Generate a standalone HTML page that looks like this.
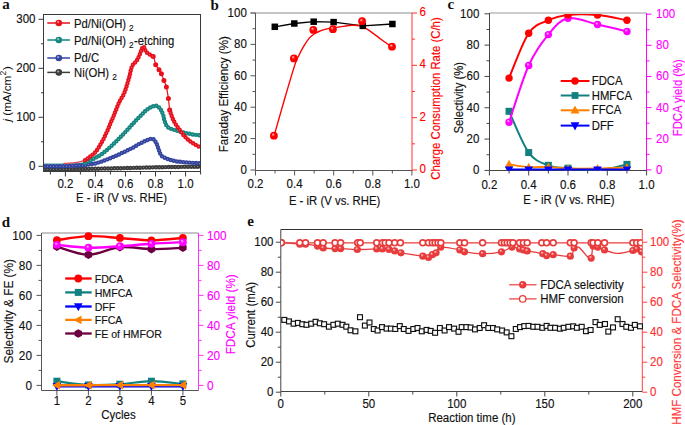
<!DOCTYPE html>
<html><head><meta charset="utf-8"><style>
html,body{margin:0;padding:0;background:#fff;}
svg{display:block;}
text{font-family:"Liberation Sans", sans-serif;}
</style></head><body>
<svg width="685" height="425" viewBox="0 0 685 425">
<rect width="685" height="425" fill="#fff"/>
<defs><radialGradient id="ge8101c" cx="0.5" cy="0.5" r="0.5" fx="0.36" fy="0.3"><stop offset="0" stop-color="#facfd1"/><stop offset="0.45" stop-color="#e8101c"/><stop offset="1" stop-color="#e8101c"/></radialGradient><radialGradient id="g14857f" cx="0.5" cy="0.5" r="0.5" fx="0.36" fy="0.3"><stop offset="0" stop-color="#d0e6e5"/><stop offset="0.45" stop-color="#14857f"/><stop offset="1" stop-color="#14857f"/></radialGradient><radialGradient id="g3344a0" cx="0.5" cy="0.5" r="0.5" fx="0.36" fy="0.3"><stop offset="0" stop-color="#d6d9ec"/><stop offset="0.45" stop-color="#3344a0"/><stop offset="1" stop-color="#3344a0"/></radialGradient><radialGradient id="g3c3c3c" cx="0.5" cy="0.5" r="0.5" fx="0.36" fy="0.3"><stop offset="0" stop-color="#d8d8d8"/><stop offset="0.45" stop-color="#3c3c3c"/><stop offset="1" stop-color="#3c3c3c"/></radialGradient><radialGradient id="gff0000" cx="0.5" cy="0.5" r="0.5" fx="0.36" fy="0.3"><stop offset="0" stop-color="#ffcccc"/><stop offset="0.45" stop-color="#ff0000"/><stop offset="1" stop-color="#ff0000"/></radialGradient><radialGradient id="gff00ff" cx="0.5" cy="0.5" r="0.5" fx="0.36" fy="0.3"><stop offset="0" stop-color="#ffccff"/><stop offset="0.45" stop-color="#ff00ff"/><stop offset="1" stop-color="#ff00ff"/></radialGradient><radialGradient id="ge83c3c" cx="0.5" cy="0.5" r="0.5" fx="0.36" fy="0.3"><stop offset="0" stop-color="#fad8d8"/><stop offset="0.45" stop-color="#e83c3c"/><stop offset="1" stop-color="#e83c3c"/></radialGradient></defs>
<clipPath id="ca"><rect x="44" y="15" width="156.5" height="156"/></clipPath>
<g clip-path="url(#ca)">
<path d="M44,164.1 C48.33,164.08 63.17,164.18 70,164 C76.83,163.82 82.5,163.17 85,163" fill="none" stroke="#3c9a95" stroke-width="1.3" stroke-linejoin="round" stroke-linecap="round" />
<path d="M64,163.4 C65.83,163.27 71.5,163.12 75,162.6 C78.5,162.08 83.33,160.68 85,160.3" fill="none" stroke="#ea4a55" stroke-width="1.3" stroke-linejoin="round" stroke-linecap="round" />
<path d="M85,160.3 C86.65,159.02 92.17,155.52 94.9,152.6 C97.63,149.68 99.48,146.08 101.4,142.8 C103.32,139.52 104.75,136.47 106.4,132.9 C108.05,129.33 109.8,124.97 111.3,121.4 C112.8,117.83 114.03,114.8 115.4,111.5 C116.77,108.2 118,104.75 119.5,101.6 C121,98.45 122.8,96.6 124.4,92.6 C126,88.6 127.83,81.98 129.1,77.6 C130.37,73.22 130.73,69.12 132,66.3 C133.27,63.48 135.45,62.58 136.7,60.7 C137.95,58.82 138.4,57.35 139.5,55 C140.6,52.65 142.12,47.03 143.3,46.6 C144.48,46.17 144.95,50.75 146.6,52.4 C148.25,54.05 151.68,54.45 153.2,56.5 C154.72,58.55 154.73,62.5 155.7,64.7 C156.67,66.9 158.05,68.18 159,69.7 C159.95,71.22 160.58,72.02 161.4,73.8 C162.22,75.58 163.07,78.2 163.9,80.4 C164.73,82.6 165.65,83.98 166.4,87 C167.15,90.02 167.85,94.68 168.4,98.5 C168.95,102.32 169.07,106.77 169.7,109.9 C170.33,113.03 171.25,114.97 172.2,117.3 C173.15,119.63 174.17,121.83 175.4,123.9 C176.63,125.97 178.08,127.63 179.6,129.7 C181.12,131.77 182.58,134.25 184.5,136.3 C186.42,138.35 188.43,140.13 191.1,142 C193.77,143.87 198.93,146.58 200.5,147.5" fill="none" stroke="#e8101c" stroke-width="1.2" stroke-linejoin="round" stroke-linecap="round" />
<circle cx="153.2" cy="56.5" r="2.5" fill="#e8101c"/>
<circle cx="155.7" cy="64.7" r="2.5" fill="#e8101c"/>
<circle cx="159" cy="69.7" r="2.5" fill="#e8101c"/>
<circle cx="161.4" cy="73.8" r="2.5" fill="#e8101c"/>
<circle cx="163.9" cy="80.4" r="2.5" fill="#e8101c"/>
<circle cx="166.4" cy="87" r="2.5" fill="#e8101c"/>
<circle cx="168.4" cy="98.5" r="2.5" fill="#e8101c"/>
<circle cx="169.7" cy="109.9" r="2.5" fill="#e8101c"/>
<path d="M44,169.4 C50,169.33 67.33,169.2 80,169 C92.67,168.8 106.67,168.5 120,168.2 C133.33,167.9 146.5,167.47 160,167.2 C173.5,166.93 194.17,166.7 201,166.6" fill="none" stroke="#3c3c3c" stroke-width="1.2" stroke-linejoin="round" stroke-linecap="round" />
<circle cx="44" cy="169.4" r="1.3" fill="#fff" stroke="#3c3c3c" stroke-width="1.85"/>
<circle cx="47.2" cy="169.37" r="1.3" fill="#fff" stroke="#3c3c3c" stroke-width="1.85"/>
<circle cx="50.4" cy="169.34" r="1.3" fill="#fff" stroke="#3c3c3c" stroke-width="1.85"/>
<circle cx="53.6" cy="169.31" r="1.3" fill="#fff" stroke="#3c3c3c" stroke-width="1.85"/>
<circle cx="56.8" cy="169.28" r="1.3" fill="#fff" stroke="#3c3c3c" stroke-width="1.85"/>
<circle cx="60" cy="169.24" r="1.3" fill="#fff" stroke="#3c3c3c" stroke-width="1.85"/>
<circle cx="63.2" cy="169.21" r="1.3" fill="#fff" stroke="#3c3c3c" stroke-width="1.85"/>
<circle cx="66.4" cy="169.18" r="1.3" fill="#fff" stroke="#3c3c3c" stroke-width="1.85"/>
<circle cx="69.6" cy="169.14" r="1.3" fill="#fff" stroke="#3c3c3c" stroke-width="1.85"/>
<circle cx="72.8" cy="169.1" r="1.3" fill="#fff" stroke="#3c3c3c" stroke-width="1.85"/>
<circle cx="76" cy="169.06" r="1.3" fill="#fff" stroke="#3c3c3c" stroke-width="1.85"/>
<circle cx="79.2" cy="169.01" r="1.3" fill="#fff" stroke="#3c3c3c" stroke-width="1.85"/>
<circle cx="82.4" cy="168.96" r="1.3" fill="#fff" stroke="#3c3c3c" stroke-width="1.85"/>
<circle cx="85.6" cy="168.91" r="1.3" fill="#fff" stroke="#3c3c3c" stroke-width="1.85"/>
<circle cx="88.8" cy="168.85" r="1.3" fill="#fff" stroke="#3c3c3c" stroke-width="1.85"/>
<circle cx="92" cy="168.79" r="1.3" fill="#fff" stroke="#3c3c3c" stroke-width="1.85"/>
<circle cx="95.2" cy="168.73" r="1.3" fill="#fff" stroke="#3c3c3c" stroke-width="1.85"/>
<circle cx="98.39" cy="168.66" r="1.3" fill="#fff" stroke="#3c3c3c" stroke-width="1.85"/>
<circle cx="101.59" cy="168.6" r="1.3" fill="#fff" stroke="#3c3c3c" stroke-width="1.85"/>
<circle cx="104.79" cy="168.53" r="1.3" fill="#fff" stroke="#3c3c3c" stroke-width="1.85"/>
<circle cx="107.99" cy="168.46" r="1.3" fill="#fff" stroke="#3c3c3c" stroke-width="1.85"/>
<circle cx="111.19" cy="168.4" r="1.3" fill="#fff" stroke="#3c3c3c" stroke-width="1.85"/>
<circle cx="114.39" cy="168.33" r="1.3" fill="#fff" stroke="#3c3c3c" stroke-width="1.85"/>
<circle cx="117.59" cy="168.25" r="1.3" fill="#fff" stroke="#3c3c3c" stroke-width="1.85"/>
<circle cx="120.79" cy="168.18" r="1.3" fill="#fff" stroke="#3c3c3c" stroke-width="1.85"/>
<circle cx="123.99" cy="168.11" r="1.3" fill="#fff" stroke="#3c3c3c" stroke-width="1.85"/>
<circle cx="127.19" cy="168.03" r="1.3" fill="#fff" stroke="#3c3c3c" stroke-width="1.85"/>
<circle cx="130.39" cy="167.94" r="1.3" fill="#fff" stroke="#3c3c3c" stroke-width="1.85"/>
<circle cx="133.59" cy="167.86" r="1.3" fill="#fff" stroke="#3c3c3c" stroke-width="1.85"/>
<circle cx="136.78" cy="167.77" r="1.3" fill="#fff" stroke="#3c3c3c" stroke-width="1.85"/>
<circle cx="139.98" cy="167.69" r="1.3" fill="#fff" stroke="#3c3c3c" stroke-width="1.85"/>
<circle cx="143.18" cy="167.6" r="1.3" fill="#fff" stroke="#3c3c3c" stroke-width="1.85"/>
<circle cx="146.38" cy="167.52" r="1.3" fill="#fff" stroke="#3c3c3c" stroke-width="1.85"/>
<circle cx="149.58" cy="167.44" r="1.3" fill="#fff" stroke="#3c3c3c" stroke-width="1.85"/>
<circle cx="152.78" cy="167.36" r="1.3" fill="#fff" stroke="#3c3c3c" stroke-width="1.85"/>
<circle cx="155.98" cy="167.28" r="1.3" fill="#fff" stroke="#3c3c3c" stroke-width="1.85"/>
<circle cx="159.18" cy="167.22" r="1.3" fill="#fff" stroke="#3c3c3c" stroke-width="1.85"/>
<circle cx="162.38" cy="167.15" r="1.3" fill="#fff" stroke="#3c3c3c" stroke-width="1.85"/>
<circle cx="165.58" cy="167.1" r="1.3" fill="#fff" stroke="#3c3c3c" stroke-width="1.85"/>
<circle cx="168.78" cy="167.05" r="1.3" fill="#fff" stroke="#3c3c3c" stroke-width="1.85"/>
<circle cx="171.98" cy="167" r="1.3" fill="#fff" stroke="#3c3c3c" stroke-width="1.85"/>
<circle cx="175.17" cy="166.95" r="1.3" fill="#fff" stroke="#3c3c3c" stroke-width="1.85"/>
<circle cx="178.37" cy="166.9" r="1.3" fill="#fff" stroke="#3c3c3c" stroke-width="1.85"/>
<circle cx="181.57" cy="166.86" r="1.3" fill="#fff" stroke="#3c3c3c" stroke-width="1.85"/>
<circle cx="184.77" cy="166.81" r="1.3" fill="#fff" stroke="#3c3c3c" stroke-width="1.85"/>
<circle cx="187.97" cy="166.77" r="1.3" fill="#fff" stroke="#3c3c3c" stroke-width="1.85"/>
<circle cx="191.17" cy="166.73" r="1.3" fill="#fff" stroke="#3c3c3c" stroke-width="1.85"/>
<circle cx="194.37" cy="166.69" r="1.3" fill="#fff" stroke="#3c3c3c" stroke-width="1.85"/>
<circle cx="197.57" cy="166.65" r="1.3" fill="#fff" stroke="#3c3c3c" stroke-width="1.85"/>
<circle cx="200.77" cy="166.6" r="1.3" fill="#fff" stroke="#3c3c3c" stroke-width="1.85"/>
<path d="M44,166.2 C48.33,166.17 61.8,166.4 70,166 C78.2,165.6 86.58,165.07 93.2,163.8 C99.82,162.53 104.77,160.27 109.7,158.4 C114.63,156.53 118.7,154.52 122.8,152.6 C126.9,150.68 131.43,148.42 134.3,146.9 C137.17,145.38 137.13,144.87 140,143.5 C142.87,142.13 148.88,138.95 151.5,138.7 C154.12,138.45 154.6,140.48 155.7,142 C156.8,143.52 157.28,145.73 158.1,147.8 C158.92,149.87 159.5,152.75 160.6,154.4 C161.7,156.05 162.08,156.55 164.7,157.7 C167.32,158.85 170.33,160.35 176.3,161.3 C182.27,162.25 196.47,163.05 200.5,163.4" fill="none" stroke="#3344a0" stroke-width="1.2" stroke-linejoin="round" stroke-linecap="round" />
<circle cx="44" cy="166.2" r="1.3" fill="#fff" stroke="#3344a0" stroke-width="1.85"/>
<circle cx="47.2" cy="166.2" r="1.3" fill="#fff" stroke="#3344a0" stroke-width="1.85"/>
<circle cx="50.4" cy="166.22" r="1.3" fill="#fff" stroke="#3344a0" stroke-width="1.85"/>
<circle cx="53.6" cy="166.23" r="1.3" fill="#fff" stroke="#3344a0" stroke-width="1.85"/>
<circle cx="56.8" cy="166.24" r="1.3" fill="#fff" stroke="#3344a0" stroke-width="1.85"/>
<circle cx="60" cy="166.23" r="1.3" fill="#fff" stroke="#3344a0" stroke-width="1.85"/>
<circle cx="63.2" cy="166.19" r="1.3" fill="#fff" stroke="#3344a0" stroke-width="1.85"/>
<circle cx="66.4" cy="166.13" r="1.3" fill="#fff" stroke="#3344a0" stroke-width="1.85"/>
<circle cx="69.6" cy="166.02" r="1.3" fill="#fff" stroke="#3344a0" stroke-width="1.85"/>
<circle cx="72.79" cy="165.86" r="1.3" fill="#fff" stroke="#3344a0" stroke-width="1.85"/>
<circle cx="75.99" cy="165.68" r="1.3" fill="#fff" stroke="#3344a0" stroke-width="1.85"/>
<circle cx="79.18" cy="165.46" r="1.3" fill="#fff" stroke="#3344a0" stroke-width="1.85"/>
<circle cx="82.37" cy="165.21" r="1.3" fill="#fff" stroke="#3344a0" stroke-width="1.85"/>
<circle cx="85.56" cy="164.9" r="1.3" fill="#fff" stroke="#3344a0" stroke-width="1.85"/>
<circle cx="88.73" cy="164.52" r="1.3" fill="#fff" stroke="#3344a0" stroke-width="1.85"/>
<circle cx="91.9" cy="164.04" r="1.3" fill="#fff" stroke="#3344a0" stroke-width="1.85"/>
<circle cx="95.03" cy="163.41" r="1.3" fill="#fff" stroke="#3344a0" stroke-width="1.85"/>
<circle cx="98.13" cy="162.61" r="1.3" fill="#fff" stroke="#3344a0" stroke-width="1.85"/>
<circle cx="101.18" cy="161.64" r="1.3" fill="#fff" stroke="#3344a0" stroke-width="1.85"/>
<circle cx="104.19" cy="160.54" r="1.3" fill="#fff" stroke="#3344a0" stroke-width="1.85"/>
<circle cx="107.17" cy="159.38" r="1.3" fill="#fff" stroke="#3344a0" stroke-width="1.85"/>
<circle cx="110.15" cy="158.23" r="1.3" fill="#fff" stroke="#3344a0" stroke-width="1.85"/>
<circle cx="113.12" cy="157.03" r="1.3" fill="#fff" stroke="#3344a0" stroke-width="1.85"/>
<circle cx="116.05" cy="155.75" r="1.3" fill="#fff" stroke="#3344a0" stroke-width="1.85"/>
<circle cx="118.96" cy="154.41" r="1.3" fill="#fff" stroke="#3344a0" stroke-width="1.85"/>
<circle cx="121.85" cy="153.04" r="1.3" fill="#fff" stroke="#3344a0" stroke-width="1.85"/>
<circle cx="124.75" cy="151.68" r="1.3" fill="#fff" stroke="#3344a0" stroke-width="1.85"/>
<circle cx="127.63" cy="150.28" r="1.3" fill="#fff" stroke="#3344a0" stroke-width="1.85"/>
<circle cx="130.49" cy="148.86" r="1.3" fill="#fff" stroke="#3344a0" stroke-width="1.85"/>
<circle cx="133.34" cy="147.4" r="1.3" fill="#fff" stroke="#3344a0" stroke-width="1.85"/>
<circle cx="136.13" cy="145.84" r="1.3" fill="#fff" stroke="#3344a0" stroke-width="1.85"/>
<circle cx="138.82" cy="144.1" r="1.3" fill="#fff" stroke="#3344a0" stroke-width="1.85"/>
<circle cx="141.68" cy="142.68" r="1.3" fill="#fff" stroke="#3344a0" stroke-width="1.85"/>
<circle cx="144.56" cy="141.28" r="1.3" fill="#fff" stroke="#3344a0" stroke-width="1.85"/>
<circle cx="147.48" cy="139.97" r="1.3" fill="#fff" stroke="#3344a0" stroke-width="1.85"/>
<circle cx="150.49" cy="138.89" r="1.3" fill="#fff" stroke="#3344a0" stroke-width="1.85"/>
<circle cx="153.58" cy="139.15" r="1.3" fill="#fff" stroke="#3344a0" stroke-width="1.85"/>
<circle cx="155.49" cy="141.69" r="1.3" fill="#fff" stroke="#3344a0" stroke-width="1.85"/>
<circle cx="156.94" cy="144.53" r="1.3" fill="#fff" stroke="#3344a0" stroke-width="1.85"/>
<circle cx="158" cy="147.55" r="1.3" fill="#fff" stroke="#3344a0" stroke-width="1.85"/>
<circle cx="159.03" cy="150.58" r="1.3" fill="#fff" stroke="#3344a0" stroke-width="1.85"/>
<circle cx="160.13" cy="153.58" r="1.3" fill="#fff" stroke="#3344a0" stroke-width="1.85"/>
<circle cx="161.99" cy="156.16" r="1.3" fill="#fff" stroke="#3344a0" stroke-width="1.85"/>
<circle cx="164.77" cy="157.73" r="1.3" fill="#fff" stroke="#3344a0" stroke-width="1.85"/>
<circle cx="167.71" cy="159" r="1.3" fill="#fff" stroke="#3344a0" stroke-width="1.85"/>
<circle cx="170.73" cy="160.05" r="1.3" fill="#fff" stroke="#3344a0" stroke-width="1.85"/>
<circle cx="173.83" cy="160.84" r="1.3" fill="#fff" stroke="#3344a0" stroke-width="1.85"/>
<circle cx="176.98" cy="161.4" r="1.3" fill="#fff" stroke="#3344a0" stroke-width="1.85"/>
<circle cx="180.15" cy="161.79" r="1.3" fill="#fff" stroke="#3344a0" stroke-width="1.85"/>
<circle cx="183.34" cy="162.1" r="1.3" fill="#fff" stroke="#3344a0" stroke-width="1.85"/>
<circle cx="186.53" cy="162.37" r="1.3" fill="#fff" stroke="#3344a0" stroke-width="1.85"/>
<circle cx="189.72" cy="162.62" r="1.3" fill="#fff" stroke="#3344a0" stroke-width="1.85"/>
<circle cx="192.91" cy="162.85" r="1.3" fill="#fff" stroke="#3344a0" stroke-width="1.85"/>
<circle cx="196.1" cy="163.07" r="1.3" fill="#fff" stroke="#3344a0" stroke-width="1.85"/>
<circle cx="199.29" cy="163.3" r="1.3" fill="#fff" stroke="#3344a0" stroke-width="1.85"/>
<path d="M85,163 C87.73,161.55 96.73,157.4 101.4,154.3 C106.07,151.2 109.15,147.97 113,144.4 C116.85,140.83 120.95,136.6 124.5,132.9 C128.05,129.2 131.72,124.93 134.3,122.2 C136.88,119.47 137.95,118.55 140,116.5 C142.05,114.45 144.13,111.68 146.6,109.9 C149.07,108.12 152.6,106.08 154.8,105.8 C157,105.52 158.42,106.7 159.8,108.2 C161.18,109.7 162.28,112.6 163.1,114.8 C163.92,117 163.88,119.33 164.7,121.4 C165.52,123.47 166.07,125.68 168,127.2 C169.93,128.72 172.72,129.4 176.3,130.5 C179.88,131.6 185.47,132.97 189.5,133.8 C193.53,134.63 198.67,135.22 200.5,135.5" fill="none" stroke="#14857f" stroke-width="1.2" stroke-linejoin="round" stroke-linecap="round" />
<circle cx="85" cy="163" r="1.3" fill="#fff" stroke="#14857f" stroke-width="1.85"/>
<circle cx="87.86" cy="161.56" r="1.3" fill="#fff" stroke="#14857f" stroke-width="1.85"/>
<circle cx="90.73" cy="160.15" r="1.3" fill="#fff" stroke="#14857f" stroke-width="1.85"/>
<circle cx="93.58" cy="158.7" r="1.3" fill="#fff" stroke="#14857f" stroke-width="1.85"/>
<circle cx="96.42" cy="157.22" r="1.3" fill="#fff" stroke="#14857f" stroke-width="1.85"/>
<circle cx="99.21" cy="155.65" r="1.3" fill="#fff" stroke="#14857f" stroke-width="1.85"/>
<circle cx="101.92" cy="153.95" r="1.3" fill="#fff" stroke="#14857f" stroke-width="1.85"/>
<circle cx="104.5" cy="152.06" r="1.3" fill="#fff" stroke="#14857f" stroke-width="1.85"/>
<circle cx="106.96" cy="150.01" r="1.3" fill="#fff" stroke="#14857f" stroke-width="1.85"/>
<circle cx="109.32" cy="147.86" r="1.3" fill="#fff" stroke="#14857f" stroke-width="1.85"/>
<circle cx="111.65" cy="145.66" r="1.3" fill="#fff" stroke="#14857f" stroke-width="1.85"/>
<circle cx="113.99" cy="143.47" r="1.3" fill="#fff" stroke="#14857f" stroke-width="1.85"/>
<circle cx="116.29" cy="141.26" r="1.3" fill="#fff" stroke="#14857f" stroke-width="1.85"/>
<circle cx="118.56" cy="139" r="1.3" fill="#fff" stroke="#14857f" stroke-width="1.85"/>
<circle cx="120.81" cy="136.72" r="1.3" fill="#fff" stroke="#14857f" stroke-width="1.85"/>
<circle cx="123.04" cy="134.42" r="1.3" fill="#fff" stroke="#14857f" stroke-width="1.85"/>
<circle cx="125.25" cy="132.11" r="1.3" fill="#fff" stroke="#14857f" stroke-width="1.85"/>
<circle cx="127.43" cy="129.77" r="1.3" fill="#fff" stroke="#14857f" stroke-width="1.85"/>
<circle cx="129.58" cy="127.4" r="1.3" fill="#fff" stroke="#14857f" stroke-width="1.85"/>
<circle cx="131.72" cy="125.02" r="1.3" fill="#fff" stroke="#14857f" stroke-width="1.85"/>
<circle cx="133.87" cy="122.65" r="1.3" fill="#fff" stroke="#14857f" stroke-width="1.85"/>
<circle cx="136.09" cy="120.35" r="1.3" fill="#fff" stroke="#14857f" stroke-width="1.85"/>
<circle cx="138.37" cy="118.1" r="1.3" fill="#fff" stroke="#14857f" stroke-width="1.85"/>
<circle cx="140.64" cy="115.84" r="1.3" fill="#fff" stroke="#14857f" stroke-width="1.85"/>
<circle cx="142.79" cy="113.48" r="1.3" fill="#fff" stroke="#14857f" stroke-width="1.85"/>
<circle cx="145.03" cy="111.19" r="1.3" fill="#fff" stroke="#14857f" stroke-width="1.85"/>
<circle cx="147.56" cy="109.23" r="1.3" fill="#fff" stroke="#14857f" stroke-width="1.85"/>
<circle cx="150.29" cy="107.56" r="1.3" fill="#fff" stroke="#14857f" stroke-width="1.85"/>
<circle cx="153.19" cy="106.22" r="1.3" fill="#fff" stroke="#14857f" stroke-width="1.85"/>
<circle cx="156.32" cy="105.85" r="1.3" fill="#fff" stroke="#14857f" stroke-width="1.85"/>
<circle cx="159.05" cy="107.43" r="1.3" fill="#fff" stroke="#14857f" stroke-width="1.85"/>
<circle cx="161.01" cy="109.95" r="1.3" fill="#fff" stroke="#14857f" stroke-width="1.85"/>
<circle cx="162.35" cy="112.85" r="1.3" fill="#fff" stroke="#14857f" stroke-width="1.85"/>
<circle cx="163.43" cy="115.86" r="1.3" fill="#fff" stroke="#14857f" stroke-width="1.85"/>
<circle cx="164.05" cy="119" r="1.3" fill="#fff" stroke="#14857f" stroke-width="1.85"/>
<circle cx="164.95" cy="122.06" r="1.3" fill="#fff" stroke="#14857f" stroke-width="1.85"/>
<circle cx="166.19" cy="125.01" r="1.3" fill="#fff" stroke="#14857f" stroke-width="1.85"/>
<circle cx="168.27" cy="127.4" r="1.3" fill="#fff" stroke="#14857f" stroke-width="1.85"/>
<circle cx="171.11" cy="128.85" r="1.3" fill="#fff" stroke="#14857f" stroke-width="1.85"/>
<circle cx="174.15" cy="129.85" r="1.3" fill="#fff" stroke="#14857f" stroke-width="1.85"/>
<circle cx="177.22" cy="130.77" r="1.3" fill="#fff" stroke="#14857f" stroke-width="1.85"/>
<circle cx="180.3" cy="131.63" r="1.3" fill="#fff" stroke="#14857f" stroke-width="1.85"/>
<circle cx="183.4" cy="132.42" r="1.3" fill="#fff" stroke="#14857f" stroke-width="1.85"/>
<circle cx="186.52" cy="133.15" r="1.3" fill="#fff" stroke="#14857f" stroke-width="1.85"/>
<circle cx="189.64" cy="133.83" r="1.3" fill="#fff" stroke="#14857f" stroke-width="1.85"/>
<circle cx="192.79" cy="134.4" r="1.3" fill="#fff" stroke="#14857f" stroke-width="1.85"/>
<circle cx="195.96" cy="134.87" r="1.3" fill="#fff" stroke="#14857f" stroke-width="1.85"/>
<circle cx="199.13" cy="135.31" r="1.3" fill="#fff" stroke="#14857f" stroke-width="1.85"/>
<path d="M85,160.3 C86.65,159.02 92.17,155.52 94.9,152.6 C97.63,149.68 99.48,146.08 101.4,142.8 C103.32,139.52 104.75,136.47 106.4,132.9 C108.05,129.33 109.8,124.97 111.3,121.4 C112.8,117.83 114.03,114.8 115.4,111.5 C116.77,108.2 118,104.75 119.5,101.6 C121,98.45 122.8,96.6 124.4,92.6 C126,88.6 127.83,81.98 129.1,77.6 C130.37,73.22 130.73,69.12 132,66.3 C133.27,63.48 135.45,62.58 136.7,60.7 C137.95,58.82 138.4,57.35 139.5,55 C140.6,52.65 142.12,47.03 143.3,46.6 C144.48,46.17 144.95,50.75 146.6,52.4 C148.25,54.05 152.1,55.82 153.2,56.5" fill="none" stroke="#e8101c" stroke-width="1.2" stroke-linejoin="round" stroke-linecap="round" />
<circle cx="85" cy="160.3" r="1.3" fill="#fff" stroke="#e8101c" stroke-width="1.85"/>
<circle cx="87.61" cy="158.44" r="1.3" fill="#fff" stroke="#e8101c" stroke-width="1.85"/>
<circle cx="90.21" cy="156.58" r="1.3" fill="#fff" stroke="#e8101c" stroke-width="1.85"/>
<circle cx="92.73" cy="154.61" r="1.3" fill="#fff" stroke="#e8101c" stroke-width="1.85"/>
<circle cx="95.06" cy="152.42" r="1.3" fill="#fff" stroke="#e8101c" stroke-width="1.85"/>
<circle cx="97.07" cy="149.93" r="1.3" fill="#fff" stroke="#e8101c" stroke-width="1.85"/>
<circle cx="98.82" cy="147.25" r="1.3" fill="#fff" stroke="#e8101c" stroke-width="1.85"/>
<circle cx="100.43" cy="144.49" r="1.3" fill="#fff" stroke="#e8101c" stroke-width="1.85"/>
<circle cx="102.02" cy="141.71" r="1.3" fill="#fff" stroke="#e8101c" stroke-width="1.85"/>
<circle cx="103.53" cy="138.89" r="1.3" fill="#fff" stroke="#e8101c" stroke-width="1.85"/>
<circle cx="104.94" cy="136.02" r="1.3" fill="#fff" stroke="#e8101c" stroke-width="1.85"/>
<circle cx="106.3" cy="133.12" r="1.3" fill="#fff" stroke="#e8101c" stroke-width="1.85"/>
<circle cx="107.61" cy="130.2" r="1.3" fill="#fff" stroke="#e8101c" stroke-width="1.85"/>
<circle cx="108.86" cy="127.26" r="1.3" fill="#fff" stroke="#e8101c" stroke-width="1.85"/>
<circle cx="110.09" cy="124.3" r="1.3" fill="#fff" stroke="#e8101c" stroke-width="1.85"/>
<circle cx="111.32" cy="121.35" r="1.3" fill="#fff" stroke="#e8101c" stroke-width="1.85"/>
<circle cx="112.55" cy="118.4" r="1.3" fill="#fff" stroke="#e8101c" stroke-width="1.85"/>
<circle cx="113.78" cy="115.44" r="1.3" fill="#fff" stroke="#e8101c" stroke-width="1.85"/>
<circle cx="114.99" cy="112.48" r="1.3" fill="#fff" stroke="#e8101c" stroke-width="1.85"/>
<circle cx="116.2" cy="109.52" r="1.3" fill="#fff" stroke="#e8101c" stroke-width="1.85"/>
<circle cx="117.38" cy="106.54" r="1.3" fill="#fff" stroke="#e8101c" stroke-width="1.85"/>
<circle cx="118.6" cy="103.58" r="1.3" fill="#fff" stroke="#e8101c" stroke-width="1.85"/>
<circle cx="119.96" cy="100.69" r="1.3" fill="#fff" stroke="#e8101c" stroke-width="1.85"/>
<circle cx="121.59" cy="97.94" r="1.3" fill="#fff" stroke="#e8101c" stroke-width="1.85"/>
<circle cx="123.21" cy="95.18" r="1.3" fill="#fff" stroke="#e8101c" stroke-width="1.85"/>
<circle cx="124.53" cy="92.26" r="1.3" fill="#fff" stroke="#e8101c" stroke-width="1.85"/>
<circle cx="125.61" cy="89.25" r="1.3" fill="#fff" stroke="#e8101c" stroke-width="1.85"/>
<circle cx="126.58" cy="86.2" r="1.3" fill="#fff" stroke="#e8101c" stroke-width="1.85"/>
<circle cx="127.5" cy="83.14" r="1.3" fill="#fff" stroke="#e8101c" stroke-width="1.85"/>
<circle cx="128.39" cy="80.06" r="1.3" fill="#fff" stroke="#e8101c" stroke-width="1.85"/>
<circle cx="129.27" cy="76.99" r="1.3" fill="#fff" stroke="#e8101c" stroke-width="1.85"/>
<circle cx="130.02" cy="73.88" r="1.3" fill="#fff" stroke="#e8101c" stroke-width="1.85"/>
<circle cx="130.68" cy="70.75" r="1.3" fill="#fff" stroke="#e8101c" stroke-width="1.85"/>
<circle cx="131.49" cy="67.65" r="1.3" fill="#fff" stroke="#e8101c" stroke-width="1.85"/>
<circle cx="132.88" cy="64.78" r="1.3" fill="#fff" stroke="#e8101c" stroke-width="1.85"/>
<circle cx="135.09" cy="62.48" r="1.3" fill="#fff" stroke="#e8101c" stroke-width="1.85"/>
<circle cx="137.12" cy="60.03" r="1.3" fill="#fff" stroke="#e8101c" stroke-width="1.85"/>
<circle cx="138.54" cy="57.16" r="1.3" fill="#fff" stroke="#e8101c" stroke-width="1.85"/>
<circle cx="139.83" cy="54.23" r="1.3" fill="#fff" stroke="#e8101c" stroke-width="1.85"/>
<circle cx="140.94" cy="51.23" r="1.3" fill="#fff" stroke="#e8101c" stroke-width="1.85"/>
<circle cx="142.12" cy="48.26" r="1.3" fill="#fff" stroke="#e8101c" stroke-width="1.85"/>
<circle cx="144.14" cy="47.2" r="1.3" fill="#fff" stroke="#e8101c" stroke-width="1.85"/>
<circle cx="145.32" cy="50.17" r="1.3" fill="#fff" stroke="#e8101c" stroke-width="1.85"/>
<circle cx="147.06" cy="52.81" r="1.3" fill="#fff" stroke="#e8101c" stroke-width="1.85"/>
<circle cx="149.71" cy="54.59" r="1.3" fill="#fff" stroke="#e8101c" stroke-width="1.85"/>
<circle cx="152.52" cy="56.12" r="1.3" fill="#fff" stroke="#e8101c" stroke-width="1.85"/>
<path d="M169.7,109.9 C170.12,111.13 171.25,114.97 172.2,117.3 C173.15,119.63 174.17,121.83 175.4,123.9 C176.63,125.97 178.08,127.63 179.6,129.7 C181.12,131.77 182.58,134.25 184.5,136.3 C186.42,138.35 188.43,140.13 191.1,142 C193.77,143.87 198.93,146.58 200.5,147.5" fill="none" stroke="#e8101c" stroke-width="1.2" stroke-linejoin="round" stroke-linecap="round" />
<circle cx="169.7" cy="109.9" r="1.3" fill="#fff" stroke="#e8101c" stroke-width="1.85"/>
<circle cx="170.67" cy="112.95" r="1.3" fill="#fff" stroke="#e8101c" stroke-width="1.85"/>
<circle cx="171.7" cy="115.98" r="1.3" fill="#fff" stroke="#e8101c" stroke-width="1.85"/>
<circle cx="172.89" cy="118.95" r="1.3" fill="#fff" stroke="#e8101c" stroke-width="1.85"/>
<circle cx="174.26" cy="121.84" r="1.3" fill="#fff" stroke="#e8101c" stroke-width="1.85"/>
<circle cx="175.85" cy="124.62" r="1.3" fill="#fff" stroke="#e8101c" stroke-width="1.85"/>
<circle cx="177.71" cy="127.22" r="1.3" fill="#fff" stroke="#e8101c" stroke-width="1.85"/>
<circle cx="179.65" cy="129.77" r="1.3" fill="#fff" stroke="#e8101c" stroke-width="1.85"/>
<circle cx="181.47" cy="132.39" r="1.3" fill="#fff" stroke="#e8101c" stroke-width="1.85"/>
<circle cx="183.36" cy="134.98" r="1.3" fill="#fff" stroke="#e8101c" stroke-width="1.85"/>
<circle cx="185.51" cy="137.34" r="1.3" fill="#fff" stroke="#e8101c" stroke-width="1.85"/>
<circle cx="187.86" cy="139.51" r="1.3" fill="#fff" stroke="#e8101c" stroke-width="1.85"/>
<circle cx="190.38" cy="141.49" r="1.3" fill="#fff" stroke="#e8101c" stroke-width="1.85"/>
<circle cx="193.04" cy="143.26" r="1.3" fill="#fff" stroke="#e8101c" stroke-width="1.85"/>
<circle cx="195.8" cy="144.88" r="1.3" fill="#fff" stroke="#e8101c" stroke-width="1.85"/>
<circle cx="198.6" cy="146.44" r="1.3" fill="#fff" stroke="#e8101c" stroke-width="1.85"/>
</g>
<rect x="43.5" y="14.5" width="157.0" height="157.0" fill="none" stroke="#3a3a3a" stroke-width="1"/>
<line x1="38.5" y1="166.3" x2="43.5" y2="166.3" stroke="#3a3a3a" stroke-width="1" />
<text x="35.5" y="170.3" font-size="12.42" text-anchor="end" fill="#111" stroke="#111" stroke-width="0.15" textLength="6.4" lengthAdjust="spacingAndGlyphs">0</text>
<line x1="38.5" y1="117.3" x2="43.5" y2="117.3" stroke="#3a3a3a" stroke-width="1" />
<text x="35.5" y="121.3" font-size="12.42" text-anchor="end" fill="#111" stroke="#111" stroke-width="0.15" textLength="19.19" lengthAdjust="spacingAndGlyphs">100</text>
<line x1="38.5" y1="68.3" x2="43.5" y2="68.3" stroke="#3a3a3a" stroke-width="1" />
<text x="35.5" y="72.3" font-size="12.42" text-anchor="end" fill="#111" stroke="#111" stroke-width="0.15" textLength="19.19" lengthAdjust="spacingAndGlyphs">200</text>
<line x1="38.5" y1="19.3" x2="43.5" y2="19.3" stroke="#3a3a3a" stroke-width="1" />
<text x="35.5" y="23.3" font-size="12.42" text-anchor="end" fill="#111" stroke="#111" stroke-width="0.15" textLength="19.19" lengthAdjust="spacingAndGlyphs">300</text>
<line x1="41" y1="141.8" x2="43.5" y2="141.8" stroke="#3a3a3a" stroke-width="1" />
<line x1="41" y1="92.8" x2="43.5" y2="92.8" stroke="#3a3a3a" stroke-width="1" />
<line x1="41" y1="43.8" x2="43.5" y2="43.8" stroke="#3a3a3a" stroke-width="1" />
<line x1="50.38" y1="171.5" x2="50.38" y2="174.5" stroke="#3a3a3a" stroke-width="1" />
<line x1="65.4" y1="171.5" x2="65.4" y2="176.5" stroke="#3a3a3a" stroke-width="1" />
<text x="65.4" y="188.2" font-size="12.42" text-anchor="middle" fill="#111" stroke="#111" stroke-width="0.15" textLength="15.99" lengthAdjust="spacingAndGlyphs">0.2</text>
<line x1="80.42" y1="171.5" x2="80.42" y2="174.5" stroke="#3a3a3a" stroke-width="1" />
<line x1="95.44" y1="171.5" x2="95.44" y2="176.5" stroke="#3a3a3a" stroke-width="1" />
<text x="95.44" y="188.2" font-size="12.42" text-anchor="middle" fill="#111" stroke="#111" stroke-width="0.15" textLength="15.99" lengthAdjust="spacingAndGlyphs">0.4</text>
<line x1="110.46" y1="171.5" x2="110.46" y2="174.5" stroke="#3a3a3a" stroke-width="1" />
<line x1="125.48" y1="171.5" x2="125.48" y2="176.5" stroke="#3a3a3a" stroke-width="1" />
<text x="125.48" y="188.2" font-size="12.42" text-anchor="middle" fill="#111" stroke="#111" stroke-width="0.15" textLength="15.99" lengthAdjust="spacingAndGlyphs">0.6</text>
<line x1="140.5" y1="171.5" x2="140.5" y2="174.5" stroke="#3a3a3a" stroke-width="1" />
<line x1="155.52" y1="171.5" x2="155.52" y2="176.5" stroke="#3a3a3a" stroke-width="1" />
<text x="155.52" y="188.2" font-size="12.42" text-anchor="middle" fill="#111" stroke="#111" stroke-width="0.15" textLength="15.99" lengthAdjust="spacingAndGlyphs">0.8</text>
<line x1="170.54" y1="171.5" x2="170.54" y2="174.5" stroke="#3a3a3a" stroke-width="1" />
<line x1="185.56" y1="171.5" x2="185.56" y2="176.5" stroke="#3a3a3a" stroke-width="1" />
<text x="185.56" y="188.2" font-size="12.42" text-anchor="middle" fill="#111" stroke="#111" stroke-width="0.15" textLength="15.99" lengthAdjust="spacingAndGlyphs">1.0</text>
<line x1="200.58" y1="171.5" x2="200.58" y2="174.5" stroke="#3a3a3a" stroke-width="1" />
<text x="76.1" y="202.2" font-size="12.2" text-anchor="start" fill="#111" stroke="#111" stroke-width="0.15" textLength="91" lengthAdjust="spacingAndGlyphs">E - iR (V vs. RHE)</text>
<text transform="translate(10.6 121.5) rotate(-90)" font-size="11.6" fill="#111"><tspan font-style="italic">j</tspan> (mA/cm<tspan font-size="8.6" dx="0.3" dy="-4.6">2</tspan><tspan dx="0.8" dy="4.6">)</tspan></text>
<line x1="47.3" y1="23" x2="70" y2="23" stroke="#e8101c" stroke-width="1.5" />
<circle cx="58.8" cy="23" r="3.3" fill="url(#ge8101c)"/>
<text x="74" y="27.7" font-size="12.2" text-anchor="start" fill="#111" stroke="#111" stroke-width="0.15" textLength="52.11" lengthAdjust="spacingAndGlyphs">Pd/Ni(OH)</text>
<text x="129.11" y="31.4" font-size="8.86" text-anchor="start" fill="#111" stroke="#111" stroke-width="0.15" textLength="4.56" lengthAdjust="spacingAndGlyphs">2</text>
<line x1="47.3" y1="40" x2="70" y2="40" stroke="#14857f" stroke-width="1.5" />
<circle cx="58.8" cy="40" r="3.3" fill="url(#g14857f)"/>
<text x="74" y="44.7" font-size="12.2" text-anchor="start" fill="#111" stroke="#111" stroke-width="0.15" textLength="52.11" lengthAdjust="spacingAndGlyphs">Pd/Ni(OH)</text>
<text x="129.11" y="48.4" font-size="8.86" text-anchor="start" fill="#111" stroke="#111" stroke-width="0.15" textLength="4.56" lengthAdjust="spacingAndGlyphs">2</text>
<text x="134.01" y="44.7" font-size="12.2" text-anchor="start" fill="#111" stroke="#111" stroke-width="0.15" textLength="40.2" lengthAdjust="spacingAndGlyphs">-etching</text>
<line x1="47.3" y1="58" x2="70" y2="58" stroke="#3344a0" stroke-width="1.5" />
<circle cx="58.8" cy="58" r="3.3" fill="url(#g3344a0)"/>
<text x="74" y="62.2" font-size="12.2" text-anchor="start" fill="#111" stroke="#111" stroke-width="0.15" textLength="25.12" lengthAdjust="spacingAndGlyphs">Pd/C</text>
<line x1="47.3" y1="72.4" x2="70" y2="72.4" stroke="#3c3c3c" stroke-width="1.5" />
<circle cx="58.8" cy="72.4" r="3.3" fill="url(#g3c3c3c)"/>
<text x="74" y="76.6" font-size="12.2" text-anchor="start" fill="#111" stroke="#111" stroke-width="0.15" textLength="35.15" lengthAdjust="spacingAndGlyphs">Ni(OH)</text>
<text x="112.15" y="80.3" font-size="8.86" text-anchor="start" fill="#111" stroke="#111" stroke-width="0.15" textLength="4.56" lengthAdjust="spacingAndGlyphs">2</text>
<text x="2.2" y="9" font-size="15" text-anchor="start" fill="#111" font-weight="bold" style='font-family:"Liberation Serif", serif'>a</text>
<line x1="250.5" y1="13" x2="412" y2="13" stroke="#8a8a8a" stroke-width="1" />
<line x1="255.5" y1="13" x2="255.5" y2="170.5" stroke="#555" stroke-width="1" />
<line x1="255.5" y1="170.5" x2="412" y2="170.5" stroke="#555" stroke-width="1" />
<line x1="412" y1="13" x2="412" y2="171" stroke="#ff3030" stroke-width="1" />
<line x1="250.5" y1="170" x2="255.5" y2="170" stroke="#555" stroke-width="1" />
<text x="246.8" y="174" font-size="12.42" text-anchor="end" fill="#111" stroke="#111" stroke-width="0.15" textLength="6.4" lengthAdjust="spacingAndGlyphs">0</text>
<line x1="252.5" y1="154.3" x2="255.5" y2="154.3" stroke="#555" stroke-width="1" />
<line x1="250.5" y1="138.6" x2="255.5" y2="138.6" stroke="#555" stroke-width="1" />
<text x="246.8" y="142.6" font-size="12.42" text-anchor="end" fill="#111" stroke="#111" stroke-width="0.15" textLength="12.79" lengthAdjust="spacingAndGlyphs">20</text>
<line x1="252.5" y1="122.9" x2="255.5" y2="122.9" stroke="#555" stroke-width="1" />
<line x1="250.5" y1="107.2" x2="255.5" y2="107.2" stroke="#555" stroke-width="1" />
<text x="246.8" y="111.2" font-size="12.42" text-anchor="end" fill="#111" stroke="#111" stroke-width="0.15" textLength="12.79" lengthAdjust="spacingAndGlyphs">40</text>
<line x1="252.5" y1="91.5" x2="255.5" y2="91.5" stroke="#555" stroke-width="1" />
<line x1="250.5" y1="75.8" x2="255.5" y2="75.8" stroke="#555" stroke-width="1" />
<text x="246.8" y="79.8" font-size="12.42" text-anchor="end" fill="#111" stroke="#111" stroke-width="0.15" textLength="12.79" lengthAdjust="spacingAndGlyphs">60</text>
<line x1="252.5" y1="60.1" x2="255.5" y2="60.1" stroke="#555" stroke-width="1" />
<line x1="250.5" y1="44.4" x2="255.5" y2="44.4" stroke="#555" stroke-width="1" />
<text x="246.8" y="48.4" font-size="12.42" text-anchor="end" fill="#111" stroke="#111" stroke-width="0.15" textLength="12.79" lengthAdjust="spacingAndGlyphs">80</text>
<line x1="252.5" y1="28.7" x2="255.5" y2="28.7" stroke="#555" stroke-width="1" />
<line x1="250.5" y1="13" x2="255.5" y2="13" stroke="#555" stroke-width="1" />
<text x="246.8" y="17" font-size="12.42" text-anchor="end" fill="#111" stroke="#111" stroke-width="0.15" textLength="19.19" lengthAdjust="spacingAndGlyphs">100</text>
<line x1="412" y1="170" x2="417" y2="170" stroke="#ff3030" stroke-width="1" />
<text x="419.5" y="173" font-size="12.42" text-anchor="start" fill="#ff0000" stroke="#ff0000" stroke-width="0.15" textLength="6.4" lengthAdjust="spacingAndGlyphs">0</text>
<line x1="412" y1="143.83" x2="415" y2="143.83" stroke="#ff3030" stroke-width="1" />
<line x1="412" y1="117.66" x2="417" y2="117.66" stroke="#ff3030" stroke-width="1" />
<text x="419.5" y="120.66" font-size="12.42" text-anchor="start" fill="#ff0000" stroke="#ff0000" stroke-width="0.15" textLength="6.4" lengthAdjust="spacingAndGlyphs">2</text>
<line x1="412" y1="91.49" x2="415" y2="91.49" stroke="#ff3030" stroke-width="1" />
<line x1="412" y1="65.32" x2="417" y2="65.32" stroke="#ff3030" stroke-width="1" />
<text x="419.5" y="68.32" font-size="12.42" text-anchor="start" fill="#ff0000" stroke="#ff0000" stroke-width="0.15" textLength="6.4" lengthAdjust="spacingAndGlyphs">4</text>
<line x1="412" y1="39.15" x2="415" y2="39.15" stroke="#ff3030" stroke-width="1" />
<line x1="412" y1="12.98" x2="417" y2="12.98" stroke="#ff3030" stroke-width="1" />
<text x="419.5" y="15.98" font-size="12.42" text-anchor="start" fill="#ff0000" stroke="#ff0000" stroke-width="0.15" textLength="6.4" lengthAdjust="spacingAndGlyphs">6</text>
<line x1="255.5" y1="170.5" x2="255.5" y2="175.5" stroke="#555" stroke-width="1" />
<text x="255.5" y="188.3" font-size="12.42" text-anchor="middle" fill="#111" stroke="#111" stroke-width="0.15" textLength="15.99" lengthAdjust="spacingAndGlyphs">0.2</text>
<line x1="275.05" y1="170.5" x2="275.05" y2="173.5" stroke="#555" stroke-width="1" />
<line x1="294.6" y1="170.5" x2="294.6" y2="175.5" stroke="#555" stroke-width="1" />
<text x="294.6" y="188.3" font-size="12.42" text-anchor="middle" fill="#111" stroke="#111" stroke-width="0.15" textLength="15.99" lengthAdjust="spacingAndGlyphs">0.4</text>
<line x1="314.15" y1="170.5" x2="314.15" y2="173.5" stroke="#555" stroke-width="1" />
<line x1="333.7" y1="170.5" x2="333.7" y2="175.5" stroke="#555" stroke-width="1" />
<text x="333.7" y="188.3" font-size="12.42" text-anchor="middle" fill="#111" stroke="#111" stroke-width="0.15" textLength="15.99" lengthAdjust="spacingAndGlyphs">0.6</text>
<line x1="353.25" y1="170.5" x2="353.25" y2="173.5" stroke="#555" stroke-width="1" />
<line x1="372.8" y1="170.5" x2="372.8" y2="175.5" stroke="#555" stroke-width="1" />
<text x="372.8" y="188.3" font-size="12.42" text-anchor="middle" fill="#111" stroke="#111" stroke-width="0.15" textLength="15.99" lengthAdjust="spacingAndGlyphs">0.8</text>
<line x1="392.35" y1="170.5" x2="392.35" y2="173.5" stroke="#555" stroke-width="1" />
<line x1="411.9" y1="170.5" x2="411.9" y2="175.5" stroke="#555" stroke-width="1" />
<text x="411.9" y="188.3" font-size="12.42" text-anchor="middle" fill="#111" stroke="#111" stroke-width="0.15" textLength="15.99" lengthAdjust="spacingAndGlyphs">1.0</text>
<text x="288.9" y="204.5" font-size="12.42" text-anchor="start" fill="#111" stroke="#111" stroke-width="0.15" textLength="91.5" lengthAdjust="spacingAndGlyphs">E - iR (V vs. RHE)</text>
<text x="228.4" y="152.2" font-size="12.31" text-anchor="start" fill="#111" stroke="#111" stroke-width="0.15" transform="rotate(-90 228.4 152.2)" textLength="116" lengthAdjust="spacingAndGlyphs">Faraday Efficiency (%)</text>
<text x="440.1" y="179.8" font-size="12.31" text-anchor="start" fill="#ff0000" stroke="#ff0000" stroke-width="0.15" transform="rotate(-90 440.1 179.8)" textLength="162.5" lengthAdjust="spacingAndGlyphs">Charge Consumption Rate (C/h)</text>
<path d="M274.8,26.8 L294.3,23.5 L313.7,21.7 L333.6,22.1 L362.8,25.9 L392.4,24" fill="none" stroke="#000" stroke-width="1.3" stroke-linejoin="round" stroke-linecap="round" />
<path d="M274.5,134.4 C276.27,128.22 281.68,108.97 285.1,97.3 C288.52,85.63 292.67,71.45 295,64.4 C297.33,57.35 297.63,58.03 299.1,55 C300.57,51.97 302.23,48.85 303.8,46.2 C305.37,43.55 306.73,41.17 308.5,39.1 C310.27,37.03 312.43,35.17 314.4,33.8 C316.37,32.43 318.33,31.68 320.3,30.9 C322.27,30.12 324.05,29.6 326.2,29.1 C328.35,28.6 330.9,28.27 333.2,27.9 C335.5,27.53 336.9,27.33 340,26.9 C343.1,26.47 348.27,25.42 351.8,25.3 C355.33,25.18 358.27,25.32 361.2,26.2 C364.13,27.08 366.47,28.7 369.4,30.6 C372.33,32.5 375.47,35.15 378.8,37.6 C382.13,40.05 387.2,43.73 389.4,45.3 C391.6,46.87 391.57,46.72 392,47" fill="none" stroke="#ff0000" stroke-width="1.4" stroke-linejoin="round" stroke-linecap="round" />
<rect x="271.55" y="23.55" width="6.5" height="6.5" fill="#000" stroke="#000" stroke-width="0"/>
<rect x="291.05" y="20.25" width="6.5" height="6.5" fill="#000" stroke="#000" stroke-width="0"/>
<rect x="310.45" y="18.45" width="6.5" height="6.5" fill="#000" stroke="#000" stroke-width="0"/>
<rect x="330.35" y="18.85" width="6.5" height="6.5" fill="#000" stroke="#000" stroke-width="0"/>
<rect x="359.55" y="22.65" width="6.5" height="6.5" fill="#000" stroke="#000" stroke-width="0"/>
<rect x="389.15" y="20.75" width="6.5" height="6.5" fill="#000" stroke="#000" stroke-width="0"/>
<circle cx="273.9" cy="135.7" r="3.9" fill="url(#gff0000)"/>
<circle cx="293.9" cy="58.4" r="3.9" fill="url(#gff0000)"/>
<circle cx="313.3" cy="29.9" r="3.9" fill="url(#gff0000)"/>
<circle cx="332.9" cy="29.2" r="3.9" fill="url(#gff0000)"/>
<circle cx="362.1" cy="21.2" r="3.9" fill="url(#gff0000)"/>
<circle cx="392" cy="46.7" r="3.9" fill="url(#gff0000)"/>
<text x="210.5" y="10.4" font-size="15" text-anchor="start" fill="#111" font-weight="bold" style='font-family:"Liberation Serif", serif'>b</text>
<line x1="489.5" y1="13" x2="646.5" y2="13" stroke="#999" stroke-width="1.2" />
<line x1="489.5" y1="13" x2="489.5" y2="170.5" stroke="#444" stroke-width="1" />
<line x1="489.5" y1="170.5" x2="646.5" y2="170.5" stroke="#444" stroke-width="1" />
<line x1="646.5" y1="13" x2="646.5" y2="170.5" stroke="#ff00ff" stroke-width="1" />
<line x1="484.5" y1="170.4" x2="489.5" y2="170.4" stroke="#444" stroke-width="1" />
<text x="479.3" y="174.4" font-size="12.42" text-anchor="end" fill="#111" stroke="#111" stroke-width="0.15" textLength="6.4" lengthAdjust="spacingAndGlyphs">0</text>
<line x1="646.5" y1="169.9" x2="651.5" y2="169.9" stroke="#ff00ff" stroke-width="1" />
<text x="656" y="173.9" font-size="12.42" text-anchor="start" fill="#ff00ff" stroke="#ff00ff" stroke-width="0.15" textLength="6.4" lengthAdjust="spacingAndGlyphs">0</text>
<line x1="486.5" y1="154.74" x2="489.5" y2="154.74" stroke="#444" stroke-width="1" />
<line x1="646.5" y1="154.33" x2="649.5" y2="154.33" stroke="#ff00ff" stroke-width="1" />
<line x1="484.5" y1="139.08" x2="489.5" y2="139.08" stroke="#444" stroke-width="1" />
<text x="479.3" y="143.08" font-size="12.42" text-anchor="end" fill="#111" stroke="#111" stroke-width="0.15" textLength="12.79" lengthAdjust="spacingAndGlyphs">20</text>
<line x1="646.5" y1="138.76" x2="651.5" y2="138.76" stroke="#ff00ff" stroke-width="1" />
<text x="656" y="142.76" font-size="12.42" text-anchor="start" fill="#ff00ff" stroke="#ff00ff" stroke-width="0.15" textLength="12.79" lengthAdjust="spacingAndGlyphs">20</text>
<line x1="486.5" y1="123.42" x2="489.5" y2="123.42" stroke="#444" stroke-width="1" />
<line x1="646.5" y1="123.19" x2="649.5" y2="123.19" stroke="#ff00ff" stroke-width="1" />
<line x1="484.5" y1="107.76" x2="489.5" y2="107.76" stroke="#444" stroke-width="1" />
<text x="479.3" y="111.76" font-size="12.42" text-anchor="end" fill="#111" stroke="#111" stroke-width="0.15" textLength="12.79" lengthAdjust="spacingAndGlyphs">40</text>
<line x1="646.5" y1="107.62" x2="651.5" y2="107.62" stroke="#ff00ff" stroke-width="1" />
<text x="656" y="111.62" font-size="12.42" text-anchor="start" fill="#ff00ff" stroke="#ff00ff" stroke-width="0.15" textLength="12.79" lengthAdjust="spacingAndGlyphs">40</text>
<line x1="486.5" y1="92.1" x2="489.5" y2="92.1" stroke="#444" stroke-width="1" />
<line x1="646.5" y1="92.05" x2="649.5" y2="92.05" stroke="#ff00ff" stroke-width="1" />
<line x1="484.5" y1="76.44" x2="489.5" y2="76.44" stroke="#444" stroke-width="1" />
<text x="479.3" y="80.44" font-size="12.42" text-anchor="end" fill="#111" stroke="#111" stroke-width="0.15" textLength="12.79" lengthAdjust="spacingAndGlyphs">60</text>
<line x1="646.5" y1="76.48" x2="651.5" y2="76.48" stroke="#ff00ff" stroke-width="1" />
<text x="656" y="80.48" font-size="12.42" text-anchor="start" fill="#ff00ff" stroke="#ff00ff" stroke-width="0.15" textLength="12.79" lengthAdjust="spacingAndGlyphs">60</text>
<line x1="486.5" y1="60.78" x2="489.5" y2="60.78" stroke="#444" stroke-width="1" />
<line x1="646.5" y1="60.91" x2="649.5" y2="60.91" stroke="#ff00ff" stroke-width="1" />
<line x1="484.5" y1="45.12" x2="489.5" y2="45.12" stroke="#444" stroke-width="1" />
<text x="479.3" y="49.12" font-size="12.42" text-anchor="end" fill="#111" stroke="#111" stroke-width="0.15" textLength="12.79" lengthAdjust="spacingAndGlyphs">80</text>
<line x1="646.5" y1="45.34" x2="651.5" y2="45.34" stroke="#ff00ff" stroke-width="1" />
<text x="656" y="49.34" font-size="12.42" text-anchor="start" fill="#ff00ff" stroke="#ff00ff" stroke-width="0.15" textLength="12.79" lengthAdjust="spacingAndGlyphs">80</text>
<line x1="486.5" y1="29.46" x2="489.5" y2="29.46" stroke="#444" stroke-width="1" />
<line x1="646.5" y1="29.77" x2="649.5" y2="29.77" stroke="#ff00ff" stroke-width="1" />
<line x1="484.5" y1="13.8" x2="489.5" y2="13.8" stroke="#444" stroke-width="1" />
<text x="479.3" y="17.8" font-size="12.42" text-anchor="end" fill="#111" stroke="#111" stroke-width="0.15" textLength="19.19" lengthAdjust="spacingAndGlyphs">100</text>
<line x1="646.5" y1="14.2" x2="651.5" y2="14.2" stroke="#ff00ff" stroke-width="1" />
<text x="656" y="18.2" font-size="12.42" text-anchor="start" fill="#ff00ff" stroke="#ff00ff" stroke-width="0.15" textLength="19.19" lengthAdjust="spacingAndGlyphs">100</text>
<line x1="489.4" y1="170.5" x2="489.4" y2="175.5" stroke="#444" stroke-width="1" />
<text x="489.4" y="188.5" font-size="12.42" text-anchor="middle" fill="#111" stroke="#111" stroke-width="0.15" textLength="15.99" lengthAdjust="spacingAndGlyphs">0.2</text>
<line x1="509.05" y1="170.5" x2="509.05" y2="173.5" stroke="#444" stroke-width="1" />
<line x1="528.7" y1="170.5" x2="528.7" y2="175.5" stroke="#444" stroke-width="1" />
<text x="528.7" y="188.5" font-size="12.42" text-anchor="middle" fill="#111" stroke="#111" stroke-width="0.15" textLength="15.99" lengthAdjust="spacingAndGlyphs">0.4</text>
<line x1="548.35" y1="170.5" x2="548.35" y2="173.5" stroke="#444" stroke-width="1" />
<line x1="568" y1="170.5" x2="568" y2="175.5" stroke="#444" stroke-width="1" />
<text x="568" y="188.5" font-size="12.42" text-anchor="middle" fill="#111" stroke="#111" stroke-width="0.15" textLength="15.99" lengthAdjust="spacingAndGlyphs">0.6</text>
<line x1="587.65" y1="170.5" x2="587.65" y2="173.5" stroke="#444" stroke-width="1" />
<line x1="607.3" y1="170.5" x2="607.3" y2="175.5" stroke="#444" stroke-width="1" />
<text x="607.3" y="188.5" font-size="12.42" text-anchor="middle" fill="#111" stroke="#111" stroke-width="0.15" textLength="15.99" lengthAdjust="spacingAndGlyphs">0.8</text>
<line x1="626.95" y1="170.5" x2="626.95" y2="173.5" stroke="#444" stroke-width="1" />
<line x1="646.6" y1="170.5" x2="646.6" y2="175.5" stroke="#444" stroke-width="1" />
<text x="646.6" y="188.5" font-size="12.42" text-anchor="middle" fill="#111" stroke="#111" stroke-width="0.15" textLength="15.99" lengthAdjust="spacingAndGlyphs">1.0</text>
<text x="523.3" y="204.3" font-size="12.42" text-anchor="start" fill="#111" stroke="#111" stroke-width="0.15" textLength="91.2" lengthAdjust="spacingAndGlyphs">E - iR (V vs. RHE)</text>
<text x="462.5" y="133.5" font-size="12.2" text-anchor="start" fill="#111" stroke="#111" stroke-width="0.15" transform="rotate(-90 462.5 133.5)" textLength="71.5" lengthAdjust="spacingAndGlyphs">Selectivity (%)</text>
<text x="682.3" y="136.2" font-size="12.2" text-anchor="start" fill="#ff00ff" stroke="#ff00ff" stroke-width="0.15" transform="rotate(-90 682.3 136.2)" textLength="77" lengthAdjust="spacingAndGlyphs">FDCA yield (%)</text>
<clipPath id="cc"><rect x="490" y="14" width="157" height="156.5"/></clipPath>
<g clip-path="url(#cc)">
<path d="M509.05,111.31 C512.32,118.19 522.15,143.57 528.7,152.57 C535.25,161.58 541.8,162.73 548.35,165.33 C554.9,167.93 559.81,167.3 568,168.16 C576.19,169.03 587.65,171.16 597.48,170.53 C607.3,169.9 622.04,165.41 626.95,164.38" fill="none" stroke="#128080" stroke-width="2" stroke-linejoin="round" stroke-linecap="round" />
<rect x="505.55" y="107.81" width="7" height="7" fill="#128080" stroke="#128080" stroke-width="0"/>
<rect x="525.2" y="149.07" width="7" height="7" fill="#128080" stroke="#128080" stroke-width="0"/>
<rect x="544.85" y="161.83" width="7" height="7" fill="#128080" stroke="#128080" stroke-width="0"/>
<rect x="564.5" y="164.66" width="7" height="7" fill="#128080" stroke="#128080" stroke-width="0"/>
<rect x="593.98" y="167.03" width="7" height="7" fill="#128080" stroke="#128080" stroke-width="0"/>
<rect x="623.45" y="160.88" width="7" height="7" fill="#128080" stroke="#128080" stroke-width="0"/>
<path d="M509.05,164.23 C512.32,164.73 522.15,166.77 528.7,167.22 C535.25,167.67 541.8,166.69 548.35,166.91 C554.9,167.12 559.81,168.22 568,168.48 C576.19,168.74 587.65,168.64 597.48,168.48 C607.3,168.32 622.04,167.69 626.95,167.53" fill="none" stroke="#ff8000" stroke-width="2" stroke-linejoin="round" stroke-linecap="round" />
<path d="M509.05,159.73 L505,167.23 L513.1,167.23 Z" fill="#ff8000"/>
<path d="M528.7,162.72 L524.65,170.22 L532.75,170.22 Z" fill="#ff8000"/>
<path d="M548.35,162.41 L544.3,169.91 L552.4,169.91 Z" fill="#ff8000"/>
<path d="M568,163.98 L563.95,171.48 L572.05,171.48 Z" fill="#ff8000"/>
<path d="M597.48,163.98 L593.43,171.48 L601.52,171.48 Z" fill="#ff8000"/>
<path d="M626.95,163.03 L622.9,170.53 L631,170.53 Z" fill="#ff8000"/>
<path d="M509.05,169.58 C512.32,169.58 522.15,169.58 528.7,169.58 C535.25,169.58 541.8,169.58 548.35,169.58 C554.9,169.58 559.81,169.58 568,169.58 C576.19,169.58 587.65,169.58 597.48,169.58 C607.3,169.58 622.04,169.58 626.95,169.58" fill="none" stroke="#0000ff" stroke-width="2.2" stroke-linejoin="round" stroke-linecap="round" />
<path d="M509.05,174.38 L504.75,166.38 L513.35,166.38 Z" fill="#0000ff"/>
<path d="M528.7,174.38 L524.4,166.38 L533,166.38 Z" fill="#0000ff"/>
<path d="M548.35,174.38 L544.05,166.38 L552.65,166.38 Z" fill="#0000ff"/>
<path d="M568,174.38 L563.7,166.38 L572.3,166.38 Z" fill="#0000ff"/>
<path d="M597.48,174.38 L593.18,166.38 L601.77,166.38 Z" fill="#0000ff"/>
<path d="M626.95,174.38 L622.65,166.38 L631.25,166.38 Z" fill="#0000ff"/>
<path d="M509.05,122.18 C512.32,112.73 522.15,80.07 528.7,65.48 C535.25,50.88 541.8,42.48 548.35,34.61 C554.9,26.73 559.81,19.9 568,18.22 C576.19,16.54 587.65,22.32 597.48,24.53 C607.3,26.73 622.04,30.3 626.95,31.46" fill="none" stroke="#ff00ff" stroke-width="2" stroke-linejoin="round" stroke-linecap="round" />
<path d="M509.05,78.08 C512.32,70.59 522.15,42.82 528.7,33.19 C535.25,23.55 541.8,23.32 548.35,20.27 C554.9,17.23 559.81,15.78 568,14.92 C576.19,14.05 587.65,14.18 597.48,15.08 C607.3,15.97 622.04,19.41 626.95,20.27" fill="none" stroke="#ff0000" stroke-width="2" stroke-linejoin="round" stroke-linecap="round" />
<circle cx="509.05" cy="122.18" r="3.7" fill="url(#gff00ff)"/>
<circle cx="528.7" cy="65.48" r="3.7" fill="url(#gff00ff)"/>
<circle cx="548.35" cy="34.61" r="3.7" fill="url(#gff00ff)"/>
<circle cx="568" cy="18.22" r="3.7" fill="url(#gff00ff)"/>
<circle cx="597.48" cy="24.53" r="3.7" fill="url(#gff00ff)"/>
<circle cx="626.95" cy="31.46" r="3.7" fill="url(#gff00ff)"/>
<circle cx="509.05" cy="78.08" r="3.7" fill="#ff0000"/>
<circle cx="528.7" cy="33.19" r="3.7" fill="#ff0000"/>
<circle cx="548.35" cy="20.27" r="3.7" fill="#ff0000"/>
<circle cx="568" cy="14.92" r="3.7" fill="#ff0000"/>
<circle cx="597.48" cy="15.08" r="3.7" fill="#ff0000"/>
<circle cx="626.95" cy="20.27" r="3.7" fill="#ff0000"/>
</g>
<line x1="560.7" y1="81" x2="589.5" y2="81" stroke="#ff0000" stroke-width="2" />
<circle cx="575" cy="81" r="3.7" fill="#ff0000"/>
<text x="591.8" y="85" font-size="12.2" text-anchor="start" fill="#111" stroke="#111" stroke-width="0.15" textLength="30.76" lengthAdjust="spacingAndGlyphs">FDCA</text>
<line x1="560.7" y1="95.5" x2="589.5" y2="95.5" stroke="#128080" stroke-width="2" />
<rect x="571.6" y="92.1" width="6.8" height="6.8" fill="#128080" stroke="#128080" stroke-width="0"/>
<text x="591.8" y="99.5" font-size="12.2" text-anchor="start" fill="#111" stroke="#111" stroke-width="0.15" textLength="40.18" lengthAdjust="spacingAndGlyphs">HMFCA</text>
<line x1="560.7" y1="110.3" x2="589.5" y2="110.3" stroke="#ff8000" stroke-width="2" />
<path d="M575,105.38 L570.6,113.58 L579.4,113.58 Z" fill="#ff8000"/>
<text x="591.8" y="114.3" font-size="12.2" text-anchor="start" fill="#111" stroke="#111" stroke-width="0.15" textLength="29.5" lengthAdjust="spacingAndGlyphs">FFCA</text>
<line x1="560.7" y1="125.6" x2="589.5" y2="125.6" stroke="#0000ff" stroke-width="2" />
<path d="M575,130.52 L570.6,122.32 L579.4,122.32 Z" fill="#0000ff"/>
<text x="591.8" y="129.6" font-size="12.2" text-anchor="start" fill="#111" stroke="#111" stroke-width="0.15" textLength="21.97" lengthAdjust="spacingAndGlyphs">DFF</text>
<text x="447.4" y="9.2" font-size="15" text-anchor="start" fill="#111" font-weight="bold" style='font-family:"Liberation Serif", serif'>c</text>
<line x1="41.5" y1="233" x2="198.5" y2="233" stroke="#8a8a8a" stroke-width="1" />
<line x1="41.5" y1="233" x2="41.5" y2="390.5" stroke="#555" stroke-width="1" />
<line x1="41.5" y1="390.5" x2="198.5" y2="390.5" stroke="#555" stroke-width="1" />
<line x1="198.5" y1="233" x2="198.5" y2="390.5" stroke="#ff33ff" stroke-width="1" />
<line x1="36.5" y1="385.4" x2="41.5" y2="385.4" stroke="#555" stroke-width="1" />
<text x="32" y="389.5" font-size="12.74" text-anchor="end" fill="#111" stroke="#111" stroke-width="0.15" textLength="6.56" lengthAdjust="spacingAndGlyphs">0</text>
<line x1="198.5" y1="385.4" x2="203.5" y2="385.4" stroke="#ff33ff" stroke-width="1" />
<text x="207" y="389.5" font-size="12.74" text-anchor="start" fill="#ff00ff" stroke="#ff00ff" stroke-width="0.15" textLength="6.56" lengthAdjust="spacingAndGlyphs">0</text>
<line x1="38.5" y1="370.4" x2="41.5" y2="370.4" stroke="#555" stroke-width="1" />
<line x1="198.5" y1="370.4" x2="201.5" y2="370.4" stroke="#ff33ff" stroke-width="1" />
<line x1="36.5" y1="355.4" x2="41.5" y2="355.4" stroke="#555" stroke-width="1" />
<text x="32" y="359.5" font-size="12.74" text-anchor="end" fill="#111" stroke="#111" stroke-width="0.15" textLength="13.13" lengthAdjust="spacingAndGlyphs">20</text>
<line x1="198.5" y1="355.4" x2="203.5" y2="355.4" stroke="#ff33ff" stroke-width="1" />
<text x="207" y="359.5" font-size="12.74" text-anchor="start" fill="#ff00ff" stroke="#ff00ff" stroke-width="0.15" textLength="13.13" lengthAdjust="spacingAndGlyphs">20</text>
<line x1="38.5" y1="340.4" x2="41.5" y2="340.4" stroke="#555" stroke-width="1" />
<line x1="198.5" y1="340.4" x2="201.5" y2="340.4" stroke="#ff33ff" stroke-width="1" />
<line x1="36.5" y1="325.4" x2="41.5" y2="325.4" stroke="#555" stroke-width="1" />
<text x="32" y="329.5" font-size="12.74" text-anchor="end" fill="#111" stroke="#111" stroke-width="0.15" textLength="13.13" lengthAdjust="spacingAndGlyphs">40</text>
<line x1="198.5" y1="325.4" x2="203.5" y2="325.4" stroke="#ff33ff" stroke-width="1" />
<text x="207" y="329.5" font-size="12.74" text-anchor="start" fill="#ff00ff" stroke="#ff00ff" stroke-width="0.15" textLength="13.13" lengthAdjust="spacingAndGlyphs">40</text>
<line x1="38.5" y1="310.4" x2="41.5" y2="310.4" stroke="#555" stroke-width="1" />
<line x1="198.5" y1="310.4" x2="201.5" y2="310.4" stroke="#ff33ff" stroke-width="1" />
<line x1="36.5" y1="295.4" x2="41.5" y2="295.4" stroke="#555" stroke-width="1" />
<text x="32" y="299.5" font-size="12.74" text-anchor="end" fill="#111" stroke="#111" stroke-width="0.15" textLength="13.13" lengthAdjust="spacingAndGlyphs">60</text>
<line x1="198.5" y1="295.4" x2="203.5" y2="295.4" stroke="#ff33ff" stroke-width="1" />
<text x="207" y="299.5" font-size="12.74" text-anchor="start" fill="#ff00ff" stroke="#ff00ff" stroke-width="0.15" textLength="13.13" lengthAdjust="spacingAndGlyphs">60</text>
<line x1="38.5" y1="280.4" x2="41.5" y2="280.4" stroke="#555" stroke-width="1" />
<line x1="198.5" y1="280.4" x2="201.5" y2="280.4" stroke="#ff33ff" stroke-width="1" />
<line x1="36.5" y1="265.4" x2="41.5" y2="265.4" stroke="#555" stroke-width="1" />
<text x="32" y="269.5" font-size="12.74" text-anchor="end" fill="#111" stroke="#111" stroke-width="0.15" textLength="13.13" lengthAdjust="spacingAndGlyphs">80</text>
<line x1="198.5" y1="265.4" x2="203.5" y2="265.4" stroke="#ff33ff" stroke-width="1" />
<text x="207" y="269.5" font-size="12.74" text-anchor="start" fill="#ff00ff" stroke="#ff00ff" stroke-width="0.15" textLength="13.13" lengthAdjust="spacingAndGlyphs">80</text>
<line x1="38.5" y1="250.4" x2="41.5" y2="250.4" stroke="#555" stroke-width="1" />
<line x1="198.5" y1="250.4" x2="201.5" y2="250.4" stroke="#ff33ff" stroke-width="1" />
<line x1="36.5" y1="235.4" x2="41.5" y2="235.4" stroke="#555" stroke-width="1" />
<text x="32" y="239.5" font-size="12.74" text-anchor="end" fill="#111" stroke="#111" stroke-width="0.15" textLength="19.69" lengthAdjust="spacingAndGlyphs">100</text>
<line x1="198.5" y1="235.4" x2="203.5" y2="235.4" stroke="#ff33ff" stroke-width="1" />
<text x="207" y="239.5" font-size="12.74" text-anchor="start" fill="#ff00ff" stroke="#ff00ff" stroke-width="0.15" textLength="19.69" lengthAdjust="spacingAndGlyphs">100</text>
<line x1="56.9" y1="390.5" x2="56.9" y2="395.5" stroke="#555" stroke-width="1" />
<text x="56.9" y="404.7" font-size="12.42" text-anchor="middle" fill="#111" stroke="#111" stroke-width="0.15" textLength="6.4" lengthAdjust="spacingAndGlyphs">1</text>
<line x1="88.4" y1="390.5" x2="88.4" y2="395.5" stroke="#555" stroke-width="1" />
<text x="88.4" y="404.7" font-size="12.42" text-anchor="middle" fill="#111" stroke="#111" stroke-width="0.15" textLength="6.4" lengthAdjust="spacingAndGlyphs">2</text>
<line x1="119.9" y1="390.5" x2="119.9" y2="395.5" stroke="#555" stroke-width="1" />
<text x="119.9" y="404.7" font-size="12.42" text-anchor="middle" fill="#111" stroke="#111" stroke-width="0.15" textLength="6.4" lengthAdjust="spacingAndGlyphs">3</text>
<line x1="151.4" y1="390.5" x2="151.4" y2="395.5" stroke="#555" stroke-width="1" />
<text x="151.4" y="404.7" font-size="12.42" text-anchor="middle" fill="#111" stroke="#111" stroke-width="0.15" textLength="6.4" lengthAdjust="spacingAndGlyphs">4</text>
<line x1="182.9" y1="390.5" x2="182.9" y2="395.5" stroke="#555" stroke-width="1" />
<text x="182.9" y="404.7" font-size="12.42" text-anchor="middle" fill="#111" stroke="#111" stroke-width="0.15" textLength="6.4" lengthAdjust="spacingAndGlyphs">5</text>
<text x="118.5" y="418.5" font-size="12.42" text-anchor="middle" fill="#111" stroke="#111" stroke-width="0.15" textLength="34.51" lengthAdjust="spacingAndGlyphs">Cycles</text>
<text x="13.3" y="363.5" font-size="12.96" text-anchor="start" fill="#111" stroke="#111" stroke-width="0.15" transform="rotate(-90 13.3 363.5)" textLength="104.5" lengthAdjust="spacingAndGlyphs">Selectivity &amp; FE (%)</text>
<text x="234.8" y="354.3" font-size="12.2" text-anchor="start" fill="#ff00ff" stroke="#ff00ff" stroke-width="0.15" transform="rotate(-90 234.8 354.3)" textLength="80" lengthAdjust="spacingAndGlyphs">FDCA yield (%)</text>
<path d="M56.9,240.2 C62.15,239.52 77.9,236.52 88.4,236.15 C98.9,235.77 109.4,237.25 119.9,237.95 C130.4,238.65 140.9,240.35 151.4,240.35 C161.9,240.35 177.65,238.35 182.9,237.95" fill="none" stroke="#ff0000" stroke-width="2.4" stroke-linejoin="round" stroke-linecap="round" />
<circle cx="56.9" cy="240.2" r="3.9" fill="#ff0000"/>
<circle cx="88.4" cy="236.15" r="3.9" fill="#ff0000"/>
<circle cx="119.9" cy="237.95" r="3.9" fill="#ff0000"/>
<circle cx="151.4" cy="240.35" r="3.9" fill="#ff0000"/>
<circle cx="182.9" cy="237.95" r="3.9" fill="#ff0000"/>
<path d="M56.9,381.2 C62.15,381.82 77.9,384.45 88.4,384.95 C98.9,385.45 109.4,384.82 119.9,384.2 C130.4,383.57 140.9,381.25 151.4,381.2 C161.9,381.15 177.65,383.45 182.9,383.9" fill="none" stroke="#128080" stroke-width="2.2" stroke-linejoin="round" stroke-linecap="round" />
<rect x="53.4" y="377.7" width="7" height="7" fill="#128080" stroke="#128080" stroke-width="0"/>
<rect x="84.9" y="381.45" width="7" height="7" fill="#128080" stroke="#128080" stroke-width="0"/>
<rect x="116.4" y="380.7" width="7" height="7" fill="#128080" stroke="#128080" stroke-width="0"/>
<rect x="147.9" y="377.7" width="7" height="7" fill="#128080" stroke="#128080" stroke-width="0"/>
<rect x="179.4" y="380.4" width="7" height="7" fill="#128080" stroke="#128080" stroke-width="0"/>
<path d="M56.9,386.3 C62.15,386.3 77.9,386.3 88.4,386.3 C98.9,386.3 109.4,386.3 119.9,386.3 C130.4,386.3 140.9,386.3 151.4,386.3 C161.9,386.3 177.65,386.3 182.9,386.3" fill="none" stroke="#0000ff" stroke-width="2.2" stroke-linejoin="round" stroke-linecap="round" />
<path d="M56.9,391.1 L52.6,383.1 L61.2,383.1 Z" fill="#0000ff"/>
<path d="M88.4,391.1 L84.1,383.1 L92.7,383.1 Z" fill="#0000ff"/>
<path d="M119.9,391.1 L115.6,383.1 L124.2,383.1 Z" fill="#0000ff"/>
<path d="M151.4,391.1 L147.1,383.1 L155.7,383.1 Z" fill="#0000ff"/>
<path d="M182.9,391.1 L178.6,383.1 L187.2,383.1 Z" fill="#0000ff"/>
<path d="M56.9,385.25 C62.15,385.25 77.9,385.27 88.4,385.25 C98.9,385.23 109.4,385.12 119.9,385.1 C130.4,385.07 140.9,385.1 151.4,385.1 C161.9,385.1 177.65,385.1 182.9,385.1" fill="none" stroke="#ff8000" stroke-width="2.4" stroke-linejoin="round" stroke-linecap="round" />
<path d="M52.1,385.25 L60.1,380.95 L60.1,389.55 Z" fill="#ff8000"/>
<path d="M83.6,385.25 L91.6,380.95 L91.6,389.55 Z" fill="#ff8000"/>
<path d="M115.1,385.1 L123.1,380.8 L123.1,389.4 Z" fill="#ff8000"/>
<path d="M146.6,385.1 L154.6,380.8 L154.6,389.4 Z" fill="#ff8000"/>
<path d="M178.1,385.1 L186.1,380.8 L186.1,389.4 Z" fill="#ff8000"/>
<path d="M56.9,246.65 C62.15,248 77.9,254.68 88.4,254.75 C98.9,254.82 109.4,248.02 119.9,247.1 C130.4,246.17 140.9,249.1 151.4,249.2 C161.9,249.3 177.65,247.95 182.9,247.7" fill="none" stroke="#6a0040" stroke-width="2.4" stroke-linejoin="round" stroke-linecap="round" />
<path d="M56.9,250.95 L53.18,248.8 L53.18,244.5 L56.9,242.35 L60.62,244.5 L60.62,248.8 Z" fill="#6a0040"/>
<path d="M88.4,259.05 L84.68,256.9 L84.68,252.6 L88.4,250.45 L92.12,252.6 L92.12,256.9 Z" fill="#6a0040"/>
<path d="M119.9,251.4 L116.18,249.25 L116.18,244.95 L119.9,242.8 L123.62,244.95 L123.62,249.25 Z" fill="#6a0040"/>
<path d="M151.4,253.5 L147.68,251.35 L147.68,247.05 L151.4,244.9 L155.12,247.05 L155.12,251.35 Z" fill="#6a0040"/>
<path d="M182.9,252 L179.18,249.85 L179.18,245.55 L182.9,243.4 L186.62,245.55 L186.62,249.85 Z" fill="#6a0040"/>
<path d="M56.9,244.85 C62.15,245.32 77.9,247.47 88.4,247.7 C98.9,247.92 109.4,246.85 119.9,246.2 C130.4,245.55 140.9,244.47 151.4,243.8 C161.9,243.12 177.65,242.42 182.9,242.15" fill="none" stroke="#ff00ff" stroke-width="2.4" stroke-linejoin="round" stroke-linecap="round" />
<circle cx="56.9" cy="244.85" r="3.9" fill="url(#gff00ff)"/>
<circle cx="88.4" cy="247.7" r="3.9" fill="url(#gff00ff)"/>
<circle cx="119.9" cy="246.2" r="3.9" fill="url(#gff00ff)"/>
<circle cx="151.4" cy="243.8" r="3.9" fill="url(#gff00ff)"/>
<circle cx="182.9" cy="242.15" r="3.9" fill="url(#gff00ff)"/>
<line x1="65.2" y1="278.5" x2="91.7" y2="278.5" stroke="#ff0000" stroke-width="2.3" />
<circle cx="78.3" cy="278.5" r="3.9" fill="#ff0000"/>
<text x="94.7" y="282.8" font-size="11.45" text-anchor="start" fill="#111" stroke="#111" stroke-width="0.15" textLength="28.86" lengthAdjust="spacingAndGlyphs">FDCA</text>
<line x1="65.2" y1="292.4" x2="91.7" y2="292.4" stroke="#128080" stroke-width="2.3" />
<rect x="74.8" y="288.9" width="7" height="7" fill="#128080" stroke="#128080" stroke-width="0"/>
<text x="94.7" y="296.7" font-size="11.45" text-anchor="start" fill="#111" stroke="#111" stroke-width="0.15" textLength="37.69" lengthAdjust="spacingAndGlyphs">HMFCA</text>
<line x1="65.2" y1="306.5" x2="91.7" y2="306.5" stroke="#0000ff" stroke-width="2.3" />
<path d="M78.3,311.3 L74,303.3 L82.6,303.3 Z" fill="#0000ff"/>
<text x="94.7" y="310.8" font-size="11.45" text-anchor="start" fill="#111" stroke="#111" stroke-width="0.15" textLength="20.61" lengthAdjust="spacingAndGlyphs">DFF</text>
<line x1="65.2" y1="319.9" x2="91.7" y2="319.9" stroke="#ff8000" stroke-width="2.3" />
<path d="M73.5,319.9 L81.5,315.6 L81.5,324.2 Z" fill="#ff8000"/>
<text x="94.7" y="324.2" font-size="11.45" text-anchor="start" fill="#111" stroke="#111" stroke-width="0.15" textLength="27.68" lengthAdjust="spacingAndGlyphs">FFCA</text>
<line x1="65.2" y1="333.5" x2="91.7" y2="333.5" stroke="#6a0040" stroke-width="2.3" />
<path d="M78.3,337.8 L74.58,335.65 L74.58,331.35 L78.3,329.2 L82.02,331.35 L82.02,335.65 Z" fill="#6a0040"/>
<text x="94.7" y="337.8" font-size="11.45" text-anchor="start" fill="#111" stroke="#111" stroke-width="0.15" textLength="67.14" lengthAdjust="spacingAndGlyphs">FE of HMFOR</text>
<text x="1.7" y="227" font-size="15" text-anchor="start" fill="#111" font-weight="bold" style='font-family:"Liberation Serif", serif'>d</text>
<line x1="280.8" y1="229.5" x2="642.3" y2="229.5" stroke="#333" stroke-width="1" />
<line x1="280.8" y1="229.5" x2="280.8" y2="391.5" stroke="#444" stroke-width="1" />
<line x1="280.8" y1="391.5" x2="642.3" y2="391.5" stroke="#444" stroke-width="1" />
<line x1="642.3" y1="229.5" x2="642.3" y2="391.5" stroke="#ff4040" stroke-width="1" />
<line x1="275.8" y1="392.2" x2="280.8" y2="392.2" stroke="#444" stroke-width="1" />
<text x="273.5" y="396.1" font-size="12.42" text-anchor="end" fill="#111" stroke="#111" stroke-width="0.15" textLength="6.4" lengthAdjust="spacingAndGlyphs">0</text>
<line x1="642.3" y1="392.2" x2="647.3" y2="392.2" stroke="#ff4040" stroke-width="1" />
<text x="650" y="396.1" font-size="12.42" text-anchor="start" fill="#ff3030" stroke="#ff3030" stroke-width="0.15" textLength="6.4" lengthAdjust="spacingAndGlyphs">0</text>
<line x1="277.8" y1="377.2" x2="280.8" y2="377.2" stroke="#444" stroke-width="1" />
<line x1="642.3" y1="377.2" x2="645.3" y2="377.2" stroke="#ff4040" stroke-width="1" />
<line x1="275.8" y1="362.2" x2="280.8" y2="362.2" stroke="#444" stroke-width="1" />
<text x="273.5" y="366.1" font-size="12.42" text-anchor="end" fill="#111" stroke="#111" stroke-width="0.15" textLength="12.79" lengthAdjust="spacingAndGlyphs">20</text>
<line x1="642.3" y1="362.2" x2="647.3" y2="362.2" stroke="#ff4040" stroke-width="1" />
<text x="650" y="366.1" font-size="12.42" text-anchor="start" fill="#ff3030" stroke="#ff3030" stroke-width="0.15" textLength="12.79" lengthAdjust="spacingAndGlyphs">20</text>
<line x1="277.8" y1="347.2" x2="280.8" y2="347.2" stroke="#444" stroke-width="1" />
<line x1="642.3" y1="347.2" x2="645.3" y2="347.2" stroke="#ff4040" stroke-width="1" />
<line x1="275.8" y1="332.2" x2="280.8" y2="332.2" stroke="#444" stroke-width="1" />
<text x="273.5" y="336.1" font-size="12.42" text-anchor="end" fill="#111" stroke="#111" stroke-width="0.15" textLength="12.79" lengthAdjust="spacingAndGlyphs">40</text>
<line x1="642.3" y1="332.2" x2="647.3" y2="332.2" stroke="#ff4040" stroke-width="1" />
<text x="650" y="336.1" font-size="12.42" text-anchor="start" fill="#ff3030" stroke="#ff3030" stroke-width="0.15" textLength="12.79" lengthAdjust="spacingAndGlyphs">40</text>
<line x1="277.8" y1="317.2" x2="280.8" y2="317.2" stroke="#444" stroke-width="1" />
<line x1="642.3" y1="317.2" x2="645.3" y2="317.2" stroke="#ff4040" stroke-width="1" />
<line x1="275.8" y1="302.2" x2="280.8" y2="302.2" stroke="#444" stroke-width="1" />
<text x="273.5" y="306.1" font-size="12.42" text-anchor="end" fill="#111" stroke="#111" stroke-width="0.15" textLength="12.79" lengthAdjust="spacingAndGlyphs">60</text>
<line x1="642.3" y1="302.2" x2="647.3" y2="302.2" stroke="#ff4040" stroke-width="1" />
<text x="650" y="306.1" font-size="12.42" text-anchor="start" fill="#ff3030" stroke="#ff3030" stroke-width="0.15" textLength="12.79" lengthAdjust="spacingAndGlyphs">60</text>
<line x1="277.8" y1="287.2" x2="280.8" y2="287.2" stroke="#444" stroke-width="1" />
<line x1="642.3" y1="287.2" x2="645.3" y2="287.2" stroke="#ff4040" stroke-width="1" />
<line x1="275.8" y1="272.2" x2="280.8" y2="272.2" stroke="#444" stroke-width="1" />
<text x="273.5" y="276.1" font-size="12.42" text-anchor="end" fill="#111" stroke="#111" stroke-width="0.15" textLength="12.79" lengthAdjust="spacingAndGlyphs">80</text>
<line x1="642.3" y1="272.2" x2="647.3" y2="272.2" stroke="#ff4040" stroke-width="1" />
<text x="650" y="276.1" font-size="12.42" text-anchor="start" fill="#ff3030" stroke="#ff3030" stroke-width="0.15" textLength="12.79" lengthAdjust="spacingAndGlyphs">80</text>
<line x1="277.8" y1="257.2" x2="280.8" y2="257.2" stroke="#444" stroke-width="1" />
<line x1="642.3" y1="257.2" x2="645.3" y2="257.2" stroke="#ff4040" stroke-width="1" />
<line x1="275.8" y1="242.2" x2="280.8" y2="242.2" stroke="#444" stroke-width="1" />
<text x="273.5" y="246.1" font-size="12.42" text-anchor="end" fill="#111" stroke="#111" stroke-width="0.15" textLength="19.19" lengthAdjust="spacingAndGlyphs">100</text>
<line x1="642.3" y1="242.2" x2="647.3" y2="242.2" stroke="#ff4040" stroke-width="1" />
<text x="650" y="246.1" font-size="12.42" text-anchor="start" fill="#ff3030" stroke="#ff3030" stroke-width="0.15" textLength="19.19" lengthAdjust="spacingAndGlyphs">100</text>
<line x1="280.8" y1="391.5" x2="280.8" y2="396.5" stroke="#444" stroke-width="1" />
<text x="280.8" y="408.2" font-size="12.42" text-anchor="middle" fill="#111" stroke="#111" stroke-width="0.15" textLength="6.4" lengthAdjust="spacingAndGlyphs">0</text>
<line x1="324.8" y1="391.5" x2="324.8" y2="394.5" stroke="#444" stroke-width="1" />
<line x1="368.8" y1="391.5" x2="368.8" y2="396.5" stroke="#444" stroke-width="1" />
<text x="368.8" y="408.2" font-size="12.42" text-anchor="middle" fill="#111" stroke="#111" stroke-width="0.15" textLength="12.79" lengthAdjust="spacingAndGlyphs">50</text>
<line x1="412.8" y1="391.5" x2="412.8" y2="394.5" stroke="#444" stroke-width="1" />
<line x1="456.8" y1="391.5" x2="456.8" y2="396.5" stroke="#444" stroke-width="1" />
<text x="456.8" y="408.2" font-size="12.42" text-anchor="middle" fill="#111" stroke="#111" stroke-width="0.15" textLength="19.19" lengthAdjust="spacingAndGlyphs">100</text>
<line x1="500.8" y1="391.5" x2="500.8" y2="394.5" stroke="#444" stroke-width="1" />
<line x1="544.8" y1="391.5" x2="544.8" y2="396.5" stroke="#444" stroke-width="1" />
<text x="544.8" y="408.2" font-size="12.42" text-anchor="middle" fill="#111" stroke="#111" stroke-width="0.15" textLength="19.19" lengthAdjust="spacingAndGlyphs">150</text>
<line x1="588.8" y1="391.5" x2="588.8" y2="394.5" stroke="#444" stroke-width="1" />
<line x1="632.8" y1="391.5" x2="632.8" y2="396.5" stroke="#444" stroke-width="1" />
<text x="632.8" y="408.2" font-size="12.42" text-anchor="middle" fill="#111" stroke="#111" stroke-width="0.15" textLength="19.19" lengthAdjust="spacingAndGlyphs">200</text>
<text x="428.2" y="421.5" font-size="12.42" text-anchor="start" fill="#111" stroke="#111" stroke-width="0.15" textLength="87.3" lengthAdjust="spacingAndGlyphs">Reaction time (h)</text>
<text x="254.8" y="347.7" font-size="12.2" text-anchor="start" fill="#111" stroke="#111" stroke-width="0.15" transform="rotate(-90 254.8 347.7)" textLength="65.8" lengthAdjust="spacingAndGlyphs">Current (mA)</text>
<text x="681.3" y="424.8" font-size="12.96" text-anchor="start" fill="#ff3a3a" stroke="#ff3a3a" stroke-width="0.15" transform="rotate(-90 681.3 424.8)" textLength="205.5" lengthAdjust="spacingAndGlyphs">HMF Conversion &amp; FDCA Selectivity(%)</text>
<rect x="281.85" y="317.45" width="4.9" height="4.9" fill="#fff" stroke="#111" stroke-width="1.15"/>
<rect x="286.55" y="318.95" width="4.9" height="4.9" fill="#fff" stroke="#111" stroke-width="1.15"/>
<rect x="291.15" y="321.25" width="4.9" height="4.9" fill="#fff" stroke="#111" stroke-width="1.15"/>
<rect x="295.45" y="320.45" width="4.9" height="4.9" fill="#fff" stroke="#111" stroke-width="1.15"/>
<rect x="299.85" y="321.75" width="4.9" height="4.9" fill="#fff" stroke="#111" stroke-width="1.15"/>
<rect x="304.05" y="322.35" width="4.9" height="4.9" fill="#fff" stroke="#111" stroke-width="1.15"/>
<rect x="308.75" y="321.25" width="4.9" height="4.9" fill="#fff" stroke="#111" stroke-width="1.15"/>
<rect x="313.15" y="319.35" width="4.9" height="4.9" fill="#fff" stroke="#111" stroke-width="1.15"/>
<rect x="317.35" y="320.85" width="4.9" height="4.9" fill="#fff" stroke="#111" stroke-width="1.15"/>
<rect x="321.65" y="321.75" width="4.9" height="4.9" fill="#fff" stroke="#111" stroke-width="1.15"/>
<rect x="326.45" y="324.25" width="4.9" height="4.9" fill="#fff" stroke="#111" stroke-width="1.15"/>
<rect x="330.95" y="322.35" width="4.9" height="4.9" fill="#fff" stroke="#111" stroke-width="1.15"/>
<rect x="335.35" y="321.25" width="4.9" height="4.9" fill="#fff" stroke="#111" stroke-width="1.15"/>
<rect x="340.05" y="322.35" width="4.9" height="4.9" fill="#fff" stroke="#111" stroke-width="1.15"/>
<rect x="343.85" y="324.25" width="4.9" height="4.9" fill="#fff" stroke="#111" stroke-width="1.15"/>
<rect x="348.05" y="327.85" width="4.9" height="4.9" fill="#fff" stroke="#111" stroke-width="1.15"/>
<rect x="352.95" y="328.85" width="4.9" height="4.9" fill="#fff" stroke="#111" stroke-width="1.15"/>
<rect x="357.55" y="314.75" width="4.9" height="4.9" fill="#fff" stroke="#111" stroke-width="1.15"/>
<rect x="362.45" y="323.15" width="4.9" height="4.9" fill="#fff" stroke="#111" stroke-width="1.15"/>
<rect x="367.05" y="320.05" width="4.9" height="4.9" fill="#fff" stroke="#111" stroke-width="1.15"/>
<rect x="371.35" y="326.55" width="4.9" height="4.9" fill="#fff" stroke="#111" stroke-width="1.15"/>
<rect x="375.15" y="328.05" width="4.9" height="4.9" fill="#fff" stroke="#111" stroke-width="1.15"/>
<rect x="379.55" y="324.65" width="4.9" height="4.9" fill="#fff" stroke="#111" stroke-width="1.15"/>
<rect x="384.15" y="326.15" width="4.9" height="4.9" fill="#fff" stroke="#111" stroke-width="1.15"/>
<rect x="388.45" y="326.15" width="4.9" height="4.9" fill="#fff" stroke="#111" stroke-width="1.15"/>
<rect x="392.85" y="326.55" width="4.9" height="4.9" fill="#fff" stroke="#111" stroke-width="1.15"/>
<rect x="397.35" y="323.65" width="4.9" height="4.9" fill="#fff" stroke="#111" stroke-width="1.15"/>
<rect x="401.35" y="326.55" width="4.9" height="4.9" fill="#fff" stroke="#111" stroke-width="1.15"/>
<rect x="406.05" y="328.45" width="4.9" height="4.9" fill="#fff" stroke="#111" stroke-width="1.15"/>
<rect x="410.85" y="326.55" width="4.9" height="4.9" fill="#fff" stroke="#111" stroke-width="1.15"/>
<rect x="415.05" y="325.55" width="4.9" height="4.9" fill="#fff" stroke="#111" stroke-width="1.15"/>
<rect x="419.35" y="328.85" width="4.9" height="4.9" fill="#fff" stroke="#111" stroke-width="1.15"/>
<rect x="424.15" y="327.45" width="4.9" height="4.9" fill="#fff" stroke="#111" stroke-width="1.15"/>
<rect x="428.25" y="328.45" width="4.9" height="4.9" fill="#fff" stroke="#111" stroke-width="1.15"/>
<rect x="432.65" y="330.35" width="4.9" height="4.9" fill="#fff" stroke="#111" stroke-width="1.15"/>
<rect x="437.45" y="325.55" width="4.9" height="4.9" fill="#fff" stroke="#111" stroke-width="1.15"/>
<rect x="442.15" y="328.05" width="4.9" height="4.9" fill="#fff" stroke="#111" stroke-width="1.15"/>
<rect x="446.55" y="324.65" width="4.9" height="4.9" fill="#fff" stroke="#111" stroke-width="1.15"/>
<rect x="451.65" y="326.15" width="4.9" height="4.9" fill="#fff" stroke="#111" stroke-width="1.15"/>
<rect x="456.05" y="329.35" width="4.9" height="4.9" fill="#fff" stroke="#111" stroke-width="1.15"/>
<rect x="459.25" y="324.65" width="4.9" height="4.9" fill="#fff" stroke="#111" stroke-width="1.15"/>
<rect x="463.95" y="324.65" width="4.9" height="4.9" fill="#fff" stroke="#111" stroke-width="1.15"/>
<rect x="468.15" y="325.05" width="4.9" height="4.9" fill="#fff" stroke="#111" stroke-width="1.15"/>
<rect x="472.55" y="326.95" width="4.9" height="4.9" fill="#fff" stroke="#111" stroke-width="1.15"/>
<rect x="477.25" y="325.55" width="4.9" height="4.9" fill="#fff" stroke="#111" stroke-width="1.15"/>
<rect x="481.65" y="322.75" width="4.9" height="4.9" fill="#fff" stroke="#111" stroke-width="1.15"/>
<rect x="485.85" y="325.55" width="4.9" height="4.9" fill="#fff" stroke="#111" stroke-width="1.15"/>
<rect x="490.55" y="325.55" width="4.9" height="4.9" fill="#fff" stroke="#111" stroke-width="1.15"/>
<rect x="494.75" y="326.95" width="4.9" height="4.9" fill="#fff" stroke="#111" stroke-width="1.15"/>
<rect x="499.65" y="328.05" width="4.9" height="4.9" fill="#fff" stroke="#111" stroke-width="1.15"/>
<rect x="504.25" y="329.95" width="4.9" height="4.9" fill="#fff" stroke="#111" stroke-width="1.15"/>
<rect x="508.95" y="333.75" width="4.9" height="4.9" fill="#fff" stroke="#111" stroke-width="1.15"/>
<rect x="513.35" y="326.55" width="4.9" height="4.9" fill="#fff" stroke="#111" stroke-width="1.15"/>
<rect x="517.55" y="324.65" width="4.9" height="4.9" fill="#fff" stroke="#111" stroke-width="1.15"/>
<rect x="521.85" y="323.65" width="4.9" height="4.9" fill="#fff" stroke="#111" stroke-width="1.15"/>
<rect x="526.05" y="323.45" width="4.9" height="4.9" fill="#fff" stroke="#111" stroke-width="1.15"/>
<rect x="530.85" y="324.35" width="4.9" height="4.9" fill="#fff" stroke="#111" stroke-width="1.15"/>
<rect x="535.05" y="324.35" width="4.9" height="4.9" fill="#fff" stroke="#111" stroke-width="1.15"/>
<rect x="539.95" y="325.35" width="4.9" height="4.9" fill="#fff" stroke="#111" stroke-width="1.15"/>
<rect x="544.15" y="323.45" width="4.9" height="4.9" fill="#fff" stroke="#111" stroke-width="1.15"/>
<rect x="547.95" y="325.35" width="4.9" height="4.9" fill="#fff" stroke="#111" stroke-width="1.15"/>
<rect x="552.65" y="325.35" width="4.9" height="4.9" fill="#fff" stroke="#111" stroke-width="1.15"/>
<rect x="557.45" y="326.25" width="4.9" height="4.9" fill="#fff" stroke="#111" stroke-width="1.15"/>
<rect x="561.25" y="325.35" width="4.9" height="4.9" fill="#fff" stroke="#111" stroke-width="1.15"/>
<rect x="565.95" y="324.35" width="4.9" height="4.9" fill="#fff" stroke="#111" stroke-width="1.15"/>
<rect x="570.75" y="323.85" width="4.9" height="4.9" fill="#fff" stroke="#111" stroke-width="1.15"/>
<rect x="574.45" y="325.35" width="4.9" height="4.9" fill="#fff" stroke="#111" stroke-width="1.15"/>
<rect x="579.25" y="324.35" width="4.9" height="4.9" fill="#fff" stroke="#111" stroke-width="1.15"/>
<rect x="583.55" y="328.75" width="4.9" height="4.9" fill="#fff" stroke="#111" stroke-width="1.15"/>
<rect x="588.15" y="327.55" width="4.9" height="4.9" fill="#fff" stroke="#111" stroke-width="1.15"/>
<rect x="593.05" y="319.65" width="4.9" height="4.9" fill="#fff" stroke="#111" stroke-width="1.15"/>
<rect x="597.25" y="322.45" width="4.9" height="4.9" fill="#fff" stroke="#111" stroke-width="1.15"/>
<rect x="602.55" y="321.55" width="4.9" height="4.9" fill="#fff" stroke="#111" stroke-width="1.15"/>
<rect x="605.85" y="329.15" width="4.9" height="4.9" fill="#fff" stroke="#111" stroke-width="1.15"/>
<rect x="610.55" y="324.95" width="4.9" height="4.9" fill="#fff" stroke="#111" stroke-width="1.15"/>
<rect x="615.25" y="316.75" width="4.9" height="4.9" fill="#fff" stroke="#111" stroke-width="1.15"/>
<rect x="620.05" y="321.55" width="4.9" height="4.9" fill="#fff" stroke="#111" stroke-width="1.15"/>
<rect x="623.85" y="324.35" width="4.9" height="4.9" fill="#fff" stroke="#111" stroke-width="1.15"/>
<rect x="628.55" y="325.35" width="4.9" height="4.9" fill="#fff" stroke="#111" stroke-width="1.15"/>
<rect x="632.35" y="322.45" width="4.9" height="4.9" fill="#fff" stroke="#111" stroke-width="1.15"/>
<rect x="637.55" y="323.85" width="4.9" height="4.9" fill="#fff" stroke="#111" stroke-width="1.15"/>
<clipPath id="ce"><rect x="281" y="230" width="361" height="161"/></clipPath>
<g clip-path="url(#ce)">
<line x1="281" y1="242.8" x2="642" y2="242.8" stroke="#e83c3c" stroke-width="1.2" />
<path d="M281.4,242.6 C284.47,242.87 295.78,243.93 299.8,244.2 C303.82,244.47 302.55,243.88 305.5,244.2 C308.45,244.52 314.55,245.47 317.5,246.1 C320.45,246.73 320.28,247.58 323.2,248 C326.12,248.42 332.1,248.5 335,248.6 C337.9,248.7 336.88,248.45 340.6,248.6 C344.32,248.75 351.28,249.43 357.3,249.5 C363.32,249.57 372.52,249.08 376.7,249 C380.88,248.92 380.35,248.93 382.4,249 C384.45,249.07 386.95,249.08 389,249.4 C391.05,249.72 392.72,250.33 394.7,250.9 C396.68,251.47 396.22,251.92 400.9,252.8 C405.58,253.68 418.2,255.42 422.8,256.2 C427.4,256.98 426.92,257.75 428.5,257.5 C430.08,257.25 431.03,255.48 432.3,254.7 C433.57,253.92 434.68,254.07 436.1,252.8 C437.52,251.53 436.85,247.58 440.8,247.1 C444.75,246.62 455.85,249.12 459.8,249.9 C463.75,250.68 460.7,251.17 464.5,251.8 C468.3,252.43 476.43,253.7 482.6,253.7 C488.77,253.7 496.6,252.9 501.5,251.8 C506.4,250.7 508.98,247.57 512,247.1 C515.02,246.63 517.7,248.53 519.6,249 C521.5,249.47 522.13,249.58 523.4,249.9 C524.67,250.22 523.97,250.27 527.2,250.9 C530.43,251.53 539.57,252.92 542.8,253.7 C546.03,254.48 544.87,255.43 546.6,255.6 C548.33,255.77 549.25,254.6 553.2,254.7 C557.15,254.8 566.82,257.32 570.3,256.2 C573.78,255.08 572.73,249.5 574.1,248 C575.47,246.5 577.02,246.62 578.5,247.2 C579.98,247.78 581.5,249.9 583,251.5 C584.5,253.1 586.13,255.7 587.5,256.8 C588.87,257.9 590.27,259.88 591.2,258.1 C592.13,256.32 592,247.93 593.1,246.1 C594.2,244.27 595.9,246.47 597.8,247.1 C599.7,247.73 601.13,248.85 604.5,249.9 C607.87,250.95 613.27,253.3 618,253.4 C622.73,253.5 629.78,251.23 632.9,250.5 C636.02,249.77 635.27,248.78 636.7,249 C638.13,249.22 640.7,251.33 641.5,251.8" fill="none" stroke="#e83c3c" stroke-width="1.3" stroke-linejoin="round" stroke-linecap="round" />
<circle cx="281.4" cy="242.6" r="3.6" fill="url(#ge83c3c)"/>
<circle cx="299.8" cy="244.2" r="3.6" fill="url(#ge83c3c)"/>
<circle cx="305.5" cy="244.2" r="3.6" fill="url(#ge83c3c)"/>
<circle cx="317.5" cy="246.1" r="3.6" fill="url(#ge83c3c)"/>
<circle cx="323.2" cy="248" r="3.6" fill="url(#ge83c3c)"/>
<circle cx="335" cy="248.6" r="3.6" fill="url(#ge83c3c)"/>
<circle cx="340.6" cy="248.6" r="3.6" fill="url(#ge83c3c)"/>
<circle cx="357.3" cy="249.5" r="3.6" fill="url(#ge83c3c)"/>
<circle cx="376.7" cy="249" r="3.6" fill="url(#ge83c3c)"/>
<circle cx="382.4" cy="249" r="3.6" fill="url(#ge83c3c)"/>
<circle cx="389" cy="249.4" r="3.6" fill="url(#ge83c3c)"/>
<circle cx="394.7" cy="250.9" r="3.6" fill="url(#ge83c3c)"/>
<circle cx="400.9" cy="252.8" r="3.6" fill="url(#ge83c3c)"/>
<circle cx="422.8" cy="256.2" r="3.6" fill="url(#ge83c3c)"/>
<circle cx="428.5" cy="257.5" r="3.6" fill="url(#ge83c3c)"/>
<circle cx="432.3" cy="254.7" r="3.6" fill="url(#ge83c3c)"/>
<circle cx="436.1" cy="252.8" r="3.6" fill="url(#ge83c3c)"/>
<circle cx="440.8" cy="247.1" r="3.6" fill="url(#ge83c3c)"/>
<circle cx="459.8" cy="249.9" r="3.6" fill="url(#ge83c3c)"/>
<circle cx="464.5" cy="251.8" r="3.6" fill="url(#ge83c3c)"/>
<circle cx="482.6" cy="253.7" r="3.6" fill="url(#ge83c3c)"/>
<circle cx="501.5" cy="251.8" r="3.6" fill="url(#ge83c3c)"/>
<circle cx="512" cy="247.1" r="3.6" fill="url(#ge83c3c)"/>
<circle cx="519.6" cy="249" r="3.6" fill="url(#ge83c3c)"/>
<circle cx="523.4" cy="249.9" r="3.6" fill="url(#ge83c3c)"/>
<circle cx="527.2" cy="250.9" r="3.6" fill="url(#ge83c3c)"/>
<circle cx="542.8" cy="253.7" r="3.6" fill="url(#ge83c3c)"/>
<circle cx="546.6" cy="255.6" r="3.6" fill="url(#ge83c3c)"/>
<circle cx="553.2" cy="254.7" r="3.6" fill="url(#ge83c3c)"/>
<circle cx="570.3" cy="256.2" r="3.6" fill="url(#ge83c3c)"/>
<circle cx="574.1" cy="248" r="3.6" fill="url(#ge83c3c)"/>
<circle cx="591.2" cy="258.1" r="3.6" fill="url(#ge83c3c)"/>
<circle cx="593.1" cy="246.1" r="3.6" fill="url(#ge83c3c)"/>
<circle cx="597.8" cy="247.1" r="3.6" fill="url(#ge83c3c)"/>
<circle cx="604.5" cy="249.9" r="3.6" fill="url(#ge83c3c)"/>
<circle cx="632.9" cy="250.5" r="3.6" fill="url(#ge83c3c)"/>
<circle cx="636.7" cy="249" r="3.6" fill="url(#ge83c3c)"/>
<circle cx="641.5" cy="251.8" r="3.6" fill="url(#ge83c3c)"/>
<circle cx="281.4" cy="242.8" r="2.95" fill="#fff" stroke="#e83c3c" stroke-width="1.6"/>
<circle cx="299.8" cy="242.8" r="2.95" fill="#fff" stroke="#e83c3c" stroke-width="1.6"/>
<circle cx="305.5" cy="242.8" r="2.95" fill="#fff" stroke="#e83c3c" stroke-width="1.6"/>
<circle cx="317.5" cy="242.8" r="2.95" fill="#fff" stroke="#e83c3c" stroke-width="1.6"/>
<circle cx="323.2" cy="242.8" r="2.95" fill="#fff" stroke="#e83c3c" stroke-width="1.6"/>
<circle cx="335" cy="242.8" r="2.95" fill="#fff" stroke="#e83c3c" stroke-width="1.6"/>
<circle cx="340.6" cy="242.8" r="2.95" fill="#fff" stroke="#e83c3c" stroke-width="1.6"/>
<circle cx="357.7" cy="242.8" r="2.95" fill="#fff" stroke="#e83c3c" stroke-width="1.6"/>
<circle cx="360.2" cy="242.8" r="2.95" fill="#fff" stroke="#e83c3c" stroke-width="1.6"/>
<circle cx="376.7" cy="242.8" r="2.95" fill="#fff" stroke="#e83c3c" stroke-width="1.6"/>
<circle cx="382.4" cy="242.8" r="2.95" fill="#fff" stroke="#e83c3c" stroke-width="1.6"/>
<circle cx="385.2" cy="242.8" r="2.95" fill="#fff" stroke="#e83c3c" stroke-width="1.6"/>
<circle cx="389" cy="242.8" r="2.95" fill="#fff" stroke="#e83c3c" stroke-width="1.6"/>
<circle cx="394.7" cy="242.8" r="2.95" fill="#fff" stroke="#e83c3c" stroke-width="1.6"/>
<circle cx="400.4" cy="242.8" r="2.95" fill="#fff" stroke="#e83c3c" stroke-width="1.6"/>
<circle cx="422.8" cy="242.8" r="2.95" fill="#fff" stroke="#e83c3c" stroke-width="1.6"/>
<circle cx="428.5" cy="242.8" r="2.95" fill="#fff" stroke="#e83c3c" stroke-width="1.6"/>
<circle cx="432.3" cy="242.8" r="2.95" fill="#fff" stroke="#e83c3c" stroke-width="1.6"/>
<circle cx="435.1" cy="242.8" r="2.95" fill="#fff" stroke="#e83c3c" stroke-width="1.6"/>
<circle cx="438" cy="242.8" r="2.95" fill="#fff" stroke="#e83c3c" stroke-width="1.6"/>
<circle cx="440.8" cy="242.8" r="2.95" fill="#fff" stroke="#e83c3c" stroke-width="1.6"/>
<circle cx="459.8" cy="242.8" r="2.95" fill="#fff" stroke="#e83c3c" stroke-width="1.6"/>
<circle cx="464.5" cy="242.8" r="2.95" fill="#fff" stroke="#e83c3c" stroke-width="1.6"/>
<circle cx="482.6" cy="242.8" r="2.95" fill="#fff" stroke="#e83c3c" stroke-width="1.6"/>
<circle cx="501.5" cy="242.8" r="2.95" fill="#fff" stroke="#e83c3c" stroke-width="1.6"/>
<circle cx="504.4" cy="242.8" r="2.95" fill="#fff" stroke="#e83c3c" stroke-width="1.6"/>
<circle cx="507.2" cy="242.8" r="2.95" fill="#fff" stroke="#e83c3c" stroke-width="1.6"/>
<circle cx="510.1" cy="242.8" r="2.95" fill="#fff" stroke="#e83c3c" stroke-width="1.6"/>
<circle cx="512.9" cy="242.8" r="2.95" fill="#fff" stroke="#e83c3c" stroke-width="1.6"/>
<circle cx="519.6" cy="242.8" r="2.95" fill="#fff" stroke="#e83c3c" stroke-width="1.6"/>
<circle cx="523.4" cy="242.8" r="2.95" fill="#fff" stroke="#e83c3c" stroke-width="1.6"/>
<circle cx="527.2" cy="242.8" r="2.95" fill="#fff" stroke="#e83c3c" stroke-width="1.6"/>
<circle cx="541.8" cy="242.8" r="2.95" fill="#fff" stroke="#e83c3c" stroke-width="1.6"/>
<circle cx="546.6" cy="242.8" r="2.95" fill="#fff" stroke="#e83c3c" stroke-width="1.6"/>
<circle cx="553.2" cy="242.8" r="2.95" fill="#fff" stroke="#e83c3c" stroke-width="1.6"/>
<circle cx="570.3" cy="242.8" r="2.95" fill="#fff" stroke="#e83c3c" stroke-width="1.6"/>
<circle cx="574.1" cy="242.8" r="2.95" fill="#fff" stroke="#e83c3c" stroke-width="1.6"/>
<circle cx="591.2" cy="242.8" r="2.95" fill="#fff" stroke="#e83c3c" stroke-width="1.6"/>
<circle cx="593.1" cy="242.8" r="2.95" fill="#fff" stroke="#e83c3c" stroke-width="1.6"/>
<circle cx="597.8" cy="242.8" r="2.95" fill="#fff" stroke="#e83c3c" stroke-width="1.6"/>
<circle cx="604.5" cy="242.8" r="2.95" fill="#fff" stroke="#e83c3c" stroke-width="1.6"/>
<circle cx="632.9" cy="242.8" r="2.95" fill="#fff" stroke="#e83c3c" stroke-width="1.6"/>
<circle cx="636.7" cy="242.8" r="2.95" fill="#fff" stroke="#e83c3c" stroke-width="1.6"/>
<circle cx="640.5" cy="242.8" r="2.95" fill="#fff" stroke="#e83c3c" stroke-width="1.6"/>
</g>
<line x1="509.2" y1="284.8" x2="536.5" y2="284.8" stroke="#e83c3c" stroke-width="1.2" />
<circle cx="522.7" cy="284.8" r="3.7" fill="url(#ge83c3c)"/>
<text x="540.3" y="288.8" font-size="12.2" text-anchor="start" fill="#111" stroke="#111" stroke-width="0.15" textLength="83.4" lengthAdjust="spacingAndGlyphs">FDCA selectivity</text>
<line x1="509.2" y1="298.9" x2="536.5" y2="298.9" stroke="#e83c3c" stroke-width="1.2" />
<circle cx="522.7" cy="298.9" r="3.2" fill="#fff" stroke="#e83c3c" stroke-width="1.3"/>
<text x="540.3" y="302.9" font-size="12.2" text-anchor="start" fill="#111" stroke="#111" stroke-width="0.15" textLength="83.4" lengthAdjust="spacingAndGlyphs">HMF conversion</text>
<text x="247.2" y="225.5" font-size="15" text-anchor="start" fill="#111" font-weight="bold" style='font-family:"Liberation Serif", serif'>e</text>
</svg></body></html>
